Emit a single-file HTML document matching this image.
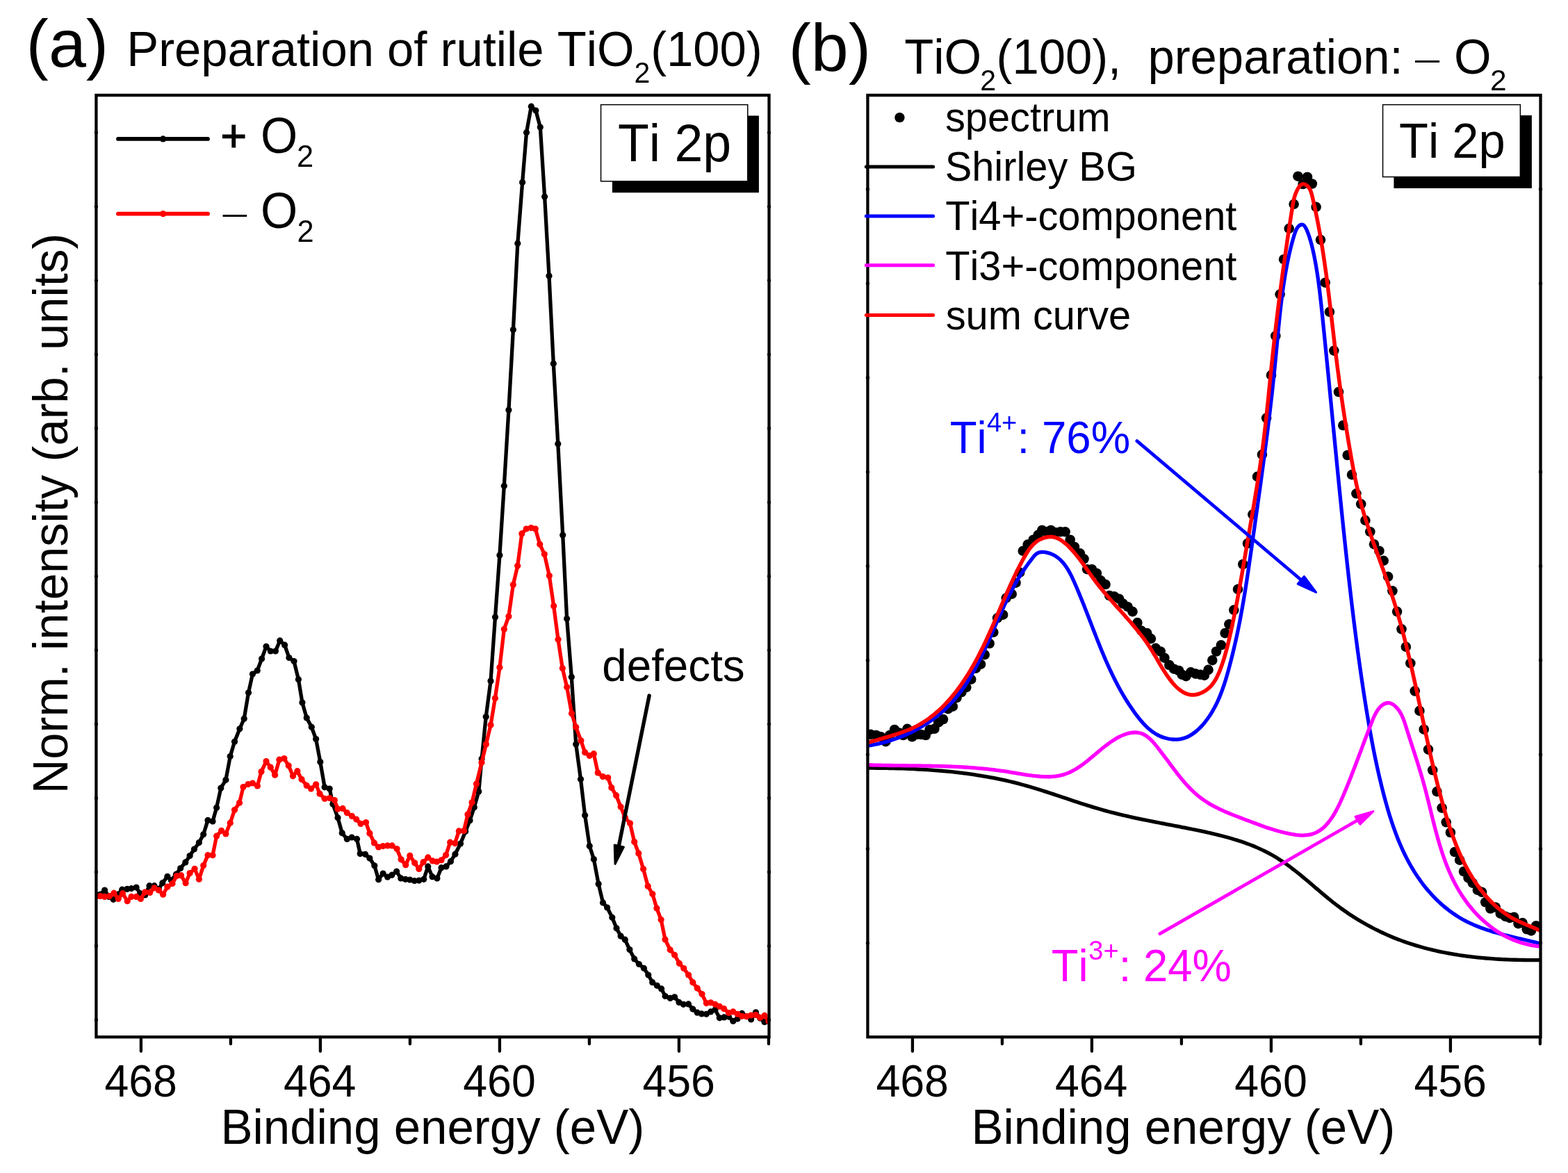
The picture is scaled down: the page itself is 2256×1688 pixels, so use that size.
<!DOCTYPE html>
<html><head><meta charset="utf-8"><title>TiO2(100) Ti 2p XPS</title>
<style>html,body{margin:0;padding:0;background:#fff;overflow:hidden;}svg{display:block;}text{font-family:"Liberation Sans", Arial, sans-serif;font-kerning:none;white-space:pre;}</style>
</head><body>
<svg width="2256" height="1688" viewBox="0 0 2256 1688">
<rect width="2256" height="1688" fill="#fff"/>
<defs><clipPath id="ca"><rect x="138.4" y="137.0" width="968.1" height="1355.3"/></clipPath><clipPath id="cb"><rect x="1248.4" y="137.0" width="968.0999999999999" height="1355.3"/></clipPath></defs>
<g clip-path="url(#ca)">
<polyline points="138.0,1287.2 144.3,1287.2 150.6,1281.0 156.8,1290.4 163.1,1294.3 169.4,1287.0 175.7,1280.2 182.8,1279.4 189.0,1278.6 196.1,1277.0 201.6,1285.7 208.7,1288.0 215.0,1274.7 222.0,1274.7 228.3,1279.4 233.8,1270.7 240.9,1261.3 246.4,1266.8 253.4,1258.2 259.7,1249.5 266.8,1240.9 273.1,1231.5 279.4,1222.0 286.4,1212.6 292.7,1200.8 299.0,1180.4 306.0,1182.0 311.6,1162.3 317.8,1134.0 324.9,1122.3 331.2,1088.5 337.5,1067.3 344.9,1048.8 351.2,1034.3 357.5,996.8 363.4,970.0 370.2,965.0 376.6,948.0 383.0,930.3 389.3,937.0 396.4,937.0 402.7,921.9 409.6,928.2 415.9,946.5 423.0,951.6 429.4,977.7 434.9,1011.0 441.2,1033.0 448.3,1046.3 454.6,1063.6 460.8,1096.6 467.1,1132.8 474.2,1135.1 478.9,1157.1 486.0,1176.7 492.2,1198.7 499.3,1207.4 506.1,1205.0 513.5,1207.4 518.2,1228.6 525.5,1229.3 531.9,1235.0 538.8,1245.8 544.6,1265.7 551.1,1257.0 557.6,1262.1 563.8,1259.2 570.6,1254.1 576.8,1263.9 583.3,1265.3 589.8,1266.0 596.3,1267.5 602.8,1267.1 609.7,1265.3 615.8,1246.9 622.0,1261.7 628.9,1263.9 635.0,1248.7 641.9,1246.9 648.4,1239.7 654.9,1229.2 662.5,1214.0 669.7,1196.4 676.0,1180.7 682.3,1161.8 688.8,1139.0 693.1,1092.0 699.2,1031.5 706.0,979.9 712.5,888.0 718.9,799.0 725.3,699.3 731.9,590.0 738.4,474.5 744.8,350.2 751.6,262.6 757.5,190.8 764.3,153.2 770.9,159.0 777.3,183.1 783.6,282.9 790.0,397.1 796.3,523.2 802.8,638.7 809.7,769.9 815.6,890.2 822.3,974.2 828.7,1070.9 835.5,1121.3 841.6,1173.2 848.2,1217.4 854.4,1236.5 861.1,1272.0 867.5,1298.9 873.6,1306.0 880.8,1320.3 887.0,1335.8 893.1,1347.1 899.3,1352.2 905.9,1366.6 912.7,1379.9 919.4,1387.5 926.4,1393.3 932.8,1403.0 938.7,1413.7 945.3,1418.3 951.6,1422.9 957.1,1433.5 964.3,1436.4 970.6,1434.8 977.0,1442.4 983.3,1445.3 990.5,1444.9 996.8,1452.1 1003.2,1457.2 1009.5,1458.9 1016.3,1459.3 1022.6,1455.9 1029.0,1452.9 1035.3,1464.8 1041.7,1463.9 1048.4,1463.1 1054.8,1469.4 1061.1,1466.1 1067.5,1458.4 1074.2,1462.7 1080.6,1466.9 1087.4,1456.8 1093.7,1465.2 1100.0,1470.7 1106.0,1469.4" fill="none" stroke="#000" stroke-width="5.3" stroke-linejoin="round"/>
<g fill="#000"><circle cx="138.0" cy="1287.2" r="4.6"/><circle cx="144.3" cy="1287.2" r="4.6"/><circle cx="150.6" cy="1281.0" r="4.6"/><circle cx="156.8" cy="1290.4" r="4.6"/><circle cx="163.1" cy="1294.3" r="4.6"/><circle cx="169.4" cy="1287.0" r="4.6"/><circle cx="175.7" cy="1280.2" r="4.6"/><circle cx="182.8" cy="1279.4" r="4.6"/><circle cx="189.0" cy="1278.6" r="4.6"/><circle cx="196.1" cy="1277.0" r="4.6"/><circle cx="201.6" cy="1285.7" r="4.6"/><circle cx="208.7" cy="1288.0" r="4.6"/><circle cx="215.0" cy="1274.7" r="4.6"/><circle cx="222.0" cy="1274.7" r="4.6"/><circle cx="228.3" cy="1279.4" r="4.6"/><circle cx="233.8" cy="1270.7" r="4.6"/><circle cx="240.9" cy="1261.3" r="4.6"/><circle cx="246.4" cy="1266.8" r="4.6"/><circle cx="253.4" cy="1258.2" r="4.6"/><circle cx="259.7" cy="1249.5" r="4.6"/><circle cx="266.8" cy="1240.9" r="4.6"/><circle cx="273.1" cy="1231.5" r="4.6"/><circle cx="279.4" cy="1222.0" r="4.6"/><circle cx="286.4" cy="1212.6" r="4.6"/><circle cx="292.7" cy="1200.8" r="4.6"/><circle cx="299.0" cy="1180.4" r="4.6"/><circle cx="306.0" cy="1182.0" r="4.6"/><circle cx="311.6" cy="1162.3" r="4.6"/><circle cx="317.8" cy="1134.0" r="4.6"/><circle cx="324.9" cy="1122.3" r="4.6"/><circle cx="331.2" cy="1088.5" r="4.6"/><circle cx="337.5" cy="1067.3" r="4.6"/><circle cx="344.9" cy="1048.8" r="4.6"/><circle cx="351.2" cy="1034.3" r="4.6"/><circle cx="357.5" cy="996.8" r="4.6"/><circle cx="363.4" cy="970.0" r="4.6"/><circle cx="370.2" cy="965.0" r="4.6"/><circle cx="376.6" cy="948.0" r="4.6"/><circle cx="383.0" cy="930.3" r="4.6"/><circle cx="389.3" cy="937.0" r="4.6"/><circle cx="396.4" cy="937.0" r="4.6"/><circle cx="402.7" cy="921.9" r="4.6"/><circle cx="409.6" cy="928.2" r="4.6"/><circle cx="415.9" cy="946.5" r="4.6"/><circle cx="423.0" cy="951.6" r="4.6"/><circle cx="429.4" cy="977.7" r="4.6"/><circle cx="434.9" cy="1011.0" r="4.6"/><circle cx="441.2" cy="1033.0" r="4.6"/><circle cx="448.3" cy="1046.3" r="4.6"/><circle cx="454.6" cy="1063.6" r="4.6"/><circle cx="460.8" cy="1096.6" r="4.6"/><circle cx="467.1" cy="1132.8" r="4.6"/><circle cx="474.2" cy="1135.1" r="4.6"/><circle cx="478.9" cy="1157.1" r="4.6"/><circle cx="486.0" cy="1176.7" r="4.6"/><circle cx="492.2" cy="1198.7" r="4.6"/><circle cx="499.3" cy="1207.4" r="4.6"/><circle cx="506.1" cy="1205.0" r="4.6"/><circle cx="513.5" cy="1207.4" r="4.6"/><circle cx="518.2" cy="1228.6" r="4.6"/><circle cx="525.5" cy="1229.3" r="4.6"/><circle cx="531.9" cy="1235.0" r="4.6"/><circle cx="538.8" cy="1245.8" r="4.6"/><circle cx="544.6" cy="1265.7" r="4.6"/><circle cx="551.1" cy="1257.0" r="4.6"/><circle cx="557.6" cy="1262.1" r="4.6"/><circle cx="563.8" cy="1259.2" r="4.6"/><circle cx="570.6" cy="1254.1" r="4.6"/><circle cx="576.8" cy="1263.9" r="4.6"/><circle cx="583.3" cy="1265.3" r="4.6"/><circle cx="589.8" cy="1266.0" r="4.6"/><circle cx="596.3" cy="1267.5" r="4.6"/><circle cx="602.8" cy="1267.1" r="4.6"/><circle cx="609.7" cy="1265.3" r="4.6"/><circle cx="615.8" cy="1246.9" r="4.6"/><circle cx="622.0" cy="1261.7" r="4.6"/><circle cx="628.9" cy="1263.9" r="4.6"/><circle cx="635.0" cy="1248.7" r="4.6"/><circle cx="641.9" cy="1246.9" r="4.6"/><circle cx="648.4" cy="1239.7" r="4.6"/><circle cx="654.9" cy="1229.2" r="4.6"/><circle cx="662.5" cy="1214.0" r="4.6"/><circle cx="669.7" cy="1196.4" r="4.6"/><circle cx="676.0" cy="1180.7" r="4.6"/><circle cx="682.3" cy="1161.8" r="4.6"/><circle cx="688.8" cy="1139.0" r="4.6"/><circle cx="693.1" cy="1092.0" r="4.6"/><circle cx="699.2" cy="1031.5" r="4.6"/><circle cx="706.0" cy="979.9" r="4.6"/><circle cx="712.5" cy="888.0" r="4.6"/><circle cx="718.9" cy="799.0" r="4.6"/><circle cx="725.3" cy="699.3" r="4.6"/><circle cx="731.9" cy="590.0" r="4.6"/><circle cx="738.4" cy="474.5" r="4.6"/><circle cx="744.8" cy="350.2" r="4.6"/><circle cx="751.6" cy="262.6" r="4.6"/><circle cx="757.5" cy="190.8" r="4.6"/><circle cx="764.3" cy="153.2" r="4.6"/><circle cx="770.9" cy="159.0" r="4.6"/><circle cx="777.3" cy="183.1" r="4.6"/><circle cx="783.6" cy="282.9" r="4.6"/><circle cx="790.0" cy="397.1" r="4.6"/><circle cx="796.3" cy="523.2" r="4.6"/><circle cx="802.8" cy="638.7" r="4.6"/><circle cx="809.7" cy="769.9" r="4.6"/><circle cx="815.6" cy="890.2" r="4.6"/><circle cx="822.3" cy="974.2" r="4.6"/><circle cx="828.7" cy="1070.9" r="4.6"/><circle cx="835.5" cy="1121.3" r="4.6"/><circle cx="841.6" cy="1173.2" r="4.6"/><circle cx="848.2" cy="1217.4" r="4.6"/><circle cx="854.4" cy="1236.5" r="4.6"/><circle cx="861.1" cy="1272.0" r="4.6"/><circle cx="867.5" cy="1298.9" r="4.6"/><circle cx="873.6" cy="1306.0" r="4.6"/><circle cx="880.8" cy="1320.3" r="4.6"/><circle cx="887.0" cy="1335.8" r="4.6"/><circle cx="893.1" cy="1347.1" r="4.6"/><circle cx="899.3" cy="1352.2" r="4.6"/><circle cx="905.9" cy="1366.6" r="4.6"/><circle cx="912.7" cy="1379.9" r="4.6"/><circle cx="919.4" cy="1387.5" r="4.6"/><circle cx="926.4" cy="1393.3" r="4.6"/><circle cx="932.8" cy="1403.0" r="4.6"/><circle cx="938.7" cy="1413.7" r="4.6"/><circle cx="945.3" cy="1418.3" r="4.6"/><circle cx="951.6" cy="1422.9" r="4.6"/><circle cx="957.1" cy="1433.5" r="4.6"/><circle cx="964.3" cy="1436.4" r="4.6"/><circle cx="970.6" cy="1434.8" r="4.6"/><circle cx="977.0" cy="1442.4" r="4.6"/><circle cx="983.3" cy="1445.3" r="4.6"/><circle cx="990.5" cy="1444.9" r="4.6"/><circle cx="996.8" cy="1452.1" r="4.6"/><circle cx="1003.2" cy="1457.2" r="4.6"/><circle cx="1009.5" cy="1458.9" r="4.6"/><circle cx="1016.3" cy="1459.3" r="4.6"/><circle cx="1022.6" cy="1455.9" r="4.6"/><circle cx="1029.0" cy="1452.9" r="4.6"/><circle cx="1035.3" cy="1464.8" r="4.6"/><circle cx="1041.7" cy="1463.9" r="4.6"/><circle cx="1048.4" cy="1463.1" r="4.6"/><circle cx="1054.8" cy="1469.4" r="4.6"/><circle cx="1061.1" cy="1466.1" r="4.6"/><circle cx="1067.5" cy="1458.4" r="4.6"/><circle cx="1074.2" cy="1462.7" r="4.6"/><circle cx="1080.6" cy="1466.9" r="4.6"/><circle cx="1087.4" cy="1456.8" r="4.6"/><circle cx="1093.7" cy="1465.2" r="4.6"/><circle cx="1100.0" cy="1470.7" r="4.6"/><circle cx="1106.0" cy="1469.4" r="4.6"/></g>
<polyline points="138.0,1290.4 144.3,1289.6 150.6,1290.4 157.6,1289.6 163.9,1285.2 170.2,1293.5 176.5,1285.7 183.2,1296.7 189.0,1290.4 196.1,1290.4 202.4,1293.5 208.7,1283.8 215.7,1284.4 222.0,1277.8 228.3,1281.0 234.6,1287.2 240.9,1276.2 248.0,1271.5 254.2,1260.5 260.5,1259.7 267.1,1270.7 273.1,1256.6 280.1,1250.3 286.4,1265.2 292.7,1245.6 299.0,1230.7 306.0,1230.7 311.6,1203.2 318.6,1195.3 324.9,1200.0 331.2,1184.3 337.5,1165.5 344.5,1155.3 350.0,1132.5 357.1,1128.6 363.4,1127.0 370.4,1130.9 376.0,1110.5 383.0,1095.6 389.3,1104.2 395.6,1115.2 401.9,1093.2 408.9,1091.6 415.2,1101.8 421.5,1116.8 427.8,1109.7 434.0,1121.5 441.2,1130.4 447.5,1135.1 454.6,1128.8 460.0,1142.2 467.1,1149.3 474.2,1148.5 481.3,1151.6 486.0,1164.2 493.0,1163.4 499.3,1169.7 506.4,1174.4 512.7,1179.1 519.0,1185.4 526.5,1183.5 531.9,1199.2 538.4,1212.9 544.6,1219.0 551.1,1217.6 557.6,1216.9 564.1,1216.9 571.0,1221.6 577.1,1236.8 583.7,1244.7 589.8,1231.3 596.7,1241.8 602.8,1250.5 609.0,1240.7 615.8,1233.9 622.4,1238.9 628.5,1240.0 635.0,1237.8 641.5,1230.6 647.7,1212.2 654.5,1213.6 660.3,1195.9 667.4,1195.6 672.9,1172.0 679.1,1154.8 685.4,1128.0 693.0,1097.3 699.4,1071.0 706.0,1043.2 712.4,1004.8 718.9,960.6 725.3,905.5 731.9,886.9 738.3,841.6 744.7,814.3 750.8,767.9 757.2,761.0 764.2,759.6 770.3,761.0 776.7,783.2 783.3,797.6 790.3,828.5 796.7,872.1 803.0,920.2 809.3,961.8 815.7,988.8 822.5,1026.8 828.7,1046.3 835.9,1065.8 841.6,1082.8 848.2,1087.4 854.3,1084.7 860.2,1111.9 867.3,1117.6 874.7,1119.0 879.8,1133.4 886.6,1144.7 893.1,1161.1 899.3,1176.6 906.5,1184.8 912.7,1211.5 918.8,1227.9 925.6,1250.5 932.2,1275.2 938.8,1286.5 944.9,1307.0 951.1,1323.4 957.0,1352.0 964.2,1366.8 970.6,1374.3 977.4,1386.3 983.8,1393.5 990.6,1403.0 996.8,1413.7 1003.2,1422.1 1010.0,1430.5 1016.3,1443.6 1022.6,1442.8 1029.0,1445.3 1035.3,1448.3 1041.7,1451.7 1048.4,1457.6 1054.8,1455.9 1061.1,1459.3 1067.5,1462.3 1074.2,1462.7 1080.6,1461.0 1087.4,1460.6 1093.7,1464.4 1100.0,1461.4 1106.0,1469.4" fill="none" stroke="#f00" stroke-width="5.3" stroke-linejoin="round"/>
<g fill="#f00"><circle cx="138.0" cy="1290.4" r="4.6"/><circle cx="144.3" cy="1289.6" r="4.6"/><circle cx="150.6" cy="1290.4" r="4.6"/><circle cx="157.6" cy="1289.6" r="4.6"/><circle cx="163.9" cy="1285.2" r="4.6"/><circle cx="170.2" cy="1293.5" r="4.6"/><circle cx="176.5" cy="1285.7" r="4.6"/><circle cx="183.2" cy="1296.7" r="4.6"/><circle cx="189.0" cy="1290.4" r="4.6"/><circle cx="196.1" cy="1290.4" r="4.6"/><circle cx="202.4" cy="1293.5" r="4.6"/><circle cx="208.7" cy="1283.8" r="4.6"/><circle cx="215.7" cy="1284.4" r="4.6"/><circle cx="222.0" cy="1277.8" r="4.6"/><circle cx="228.3" cy="1281.0" r="4.6"/><circle cx="234.6" cy="1287.2" r="4.6"/><circle cx="240.9" cy="1276.2" r="4.6"/><circle cx="248.0" cy="1271.5" r="4.6"/><circle cx="254.2" cy="1260.5" r="4.6"/><circle cx="260.5" cy="1259.7" r="4.6"/><circle cx="267.1" cy="1270.7" r="4.6"/><circle cx="273.1" cy="1256.6" r="4.6"/><circle cx="280.1" cy="1250.3" r="4.6"/><circle cx="286.4" cy="1265.2" r="4.6"/><circle cx="292.7" cy="1245.6" r="4.6"/><circle cx="299.0" cy="1230.7" r="4.6"/><circle cx="306.0" cy="1230.7" r="4.6"/><circle cx="311.6" cy="1203.2" r="4.6"/><circle cx="318.6" cy="1195.3" r="4.6"/><circle cx="324.9" cy="1200.0" r="4.6"/><circle cx="331.2" cy="1184.3" r="4.6"/><circle cx="337.5" cy="1165.5" r="4.6"/><circle cx="344.5" cy="1155.3" r="4.6"/><circle cx="350.0" cy="1132.5" r="4.6"/><circle cx="357.1" cy="1128.6" r="4.6"/><circle cx="363.4" cy="1127.0" r="4.6"/><circle cx="370.4" cy="1130.9" r="4.6"/><circle cx="376.0" cy="1110.5" r="4.6"/><circle cx="383.0" cy="1095.6" r="4.6"/><circle cx="389.3" cy="1104.2" r="4.6"/><circle cx="395.6" cy="1115.2" r="4.6"/><circle cx="401.9" cy="1093.2" r="4.6"/><circle cx="408.9" cy="1091.6" r="4.6"/><circle cx="415.2" cy="1101.8" r="4.6"/><circle cx="421.5" cy="1116.8" r="4.6"/><circle cx="427.8" cy="1109.7" r="4.6"/><circle cx="434.0" cy="1121.5" r="4.6"/><circle cx="441.2" cy="1130.4" r="4.6"/><circle cx="447.5" cy="1135.1" r="4.6"/><circle cx="454.6" cy="1128.8" r="4.6"/><circle cx="460.0" cy="1142.2" r="4.6"/><circle cx="467.1" cy="1149.3" r="4.6"/><circle cx="474.2" cy="1148.5" r="4.6"/><circle cx="481.3" cy="1151.6" r="4.6"/><circle cx="486.0" cy="1164.2" r="4.6"/><circle cx="493.0" cy="1163.4" r="4.6"/><circle cx="499.3" cy="1169.7" r="4.6"/><circle cx="506.4" cy="1174.4" r="4.6"/><circle cx="512.7" cy="1179.1" r="4.6"/><circle cx="519.0" cy="1185.4" r="4.6"/><circle cx="526.5" cy="1183.5" r="4.6"/><circle cx="531.9" cy="1199.2" r="4.6"/><circle cx="538.4" cy="1212.9" r="4.6"/><circle cx="544.6" cy="1219.0" r="4.6"/><circle cx="551.1" cy="1217.6" r="4.6"/><circle cx="557.6" cy="1216.9" r="4.6"/><circle cx="564.1" cy="1216.9" r="4.6"/><circle cx="571.0" cy="1221.6" r="4.6"/><circle cx="577.1" cy="1236.8" r="4.6"/><circle cx="583.7" cy="1244.7" r="4.6"/><circle cx="589.8" cy="1231.3" r="4.6"/><circle cx="596.7" cy="1241.8" r="4.6"/><circle cx="602.8" cy="1250.5" r="4.6"/><circle cx="609.0" cy="1240.7" r="4.6"/><circle cx="615.8" cy="1233.9" r="4.6"/><circle cx="622.4" cy="1238.9" r="4.6"/><circle cx="628.5" cy="1240.0" r="4.6"/><circle cx="635.0" cy="1237.8" r="4.6"/><circle cx="641.5" cy="1230.6" r="4.6"/><circle cx="647.7" cy="1212.2" r="4.6"/><circle cx="654.5" cy="1213.6" r="4.6"/><circle cx="660.3" cy="1195.9" r="4.6"/><circle cx="667.4" cy="1195.6" r="4.6"/><circle cx="672.9" cy="1172.0" r="4.6"/><circle cx="679.1" cy="1154.8" r="4.6"/><circle cx="685.4" cy="1128.0" r="4.6"/><circle cx="693.0" cy="1097.3" r="4.6"/><circle cx="699.4" cy="1071.0" r="4.6"/><circle cx="706.0" cy="1043.2" r="4.6"/><circle cx="712.4" cy="1004.8" r="4.6"/><circle cx="718.9" cy="960.6" r="4.6"/><circle cx="725.3" cy="905.5" r="4.6"/><circle cx="731.9" cy="886.9" r="4.6"/><circle cx="738.3" cy="841.6" r="4.6"/><circle cx="744.7" cy="814.3" r="4.6"/><circle cx="750.8" cy="767.9" r="4.6"/><circle cx="757.2" cy="761.0" r="4.6"/><circle cx="764.2" cy="759.6" r="4.6"/><circle cx="770.3" cy="761.0" r="4.6"/><circle cx="776.7" cy="783.2" r="4.6"/><circle cx="783.3" cy="797.6" r="4.6"/><circle cx="790.3" cy="828.5" r="4.6"/><circle cx="796.7" cy="872.1" r="4.6"/><circle cx="803.0" cy="920.2" r="4.6"/><circle cx="809.3" cy="961.8" r="4.6"/><circle cx="815.7" cy="988.8" r="4.6"/><circle cx="822.5" cy="1026.8" r="4.6"/><circle cx="828.7" cy="1046.3" r="4.6"/><circle cx="835.9" cy="1065.8" r="4.6"/><circle cx="841.6" cy="1082.8" r="4.6"/><circle cx="848.2" cy="1087.4" r="4.6"/><circle cx="854.3" cy="1084.7" r="4.6"/><circle cx="860.2" cy="1111.9" r="4.6"/><circle cx="867.3" cy="1117.6" r="4.6"/><circle cx="874.7" cy="1119.0" r="4.6"/><circle cx="879.8" cy="1133.4" r="4.6"/><circle cx="886.6" cy="1144.7" r="4.6"/><circle cx="893.1" cy="1161.1" r="4.6"/><circle cx="899.3" cy="1176.6" r="4.6"/><circle cx="906.5" cy="1184.8" r="4.6"/><circle cx="912.7" cy="1211.5" r="4.6"/><circle cx="918.8" cy="1227.9" r="4.6"/><circle cx="925.6" cy="1250.5" r="4.6"/><circle cx="932.2" cy="1275.2" r="4.6"/><circle cx="938.8" cy="1286.5" r="4.6"/><circle cx="944.9" cy="1307.0" r="4.6"/><circle cx="951.1" cy="1323.4" r="4.6"/><circle cx="957.0" cy="1352.0" r="4.6"/><circle cx="964.2" cy="1366.8" r="4.6"/><circle cx="970.6" cy="1374.3" r="4.6"/><circle cx="977.4" cy="1386.3" r="4.6"/><circle cx="983.8" cy="1393.5" r="4.6"/><circle cx="990.6" cy="1403.0" r="4.6"/><circle cx="996.8" cy="1413.7" r="4.6"/><circle cx="1003.2" cy="1422.1" r="4.6"/><circle cx="1010.0" cy="1430.5" r="4.6"/><circle cx="1016.3" cy="1443.6" r="4.6"/><circle cx="1022.6" cy="1442.8" r="4.6"/><circle cx="1029.0" cy="1445.3" r="4.6"/><circle cx="1035.3" cy="1448.3" r="4.6"/><circle cx="1041.7" cy="1451.7" r="4.6"/><circle cx="1048.4" cy="1457.6" r="4.6"/><circle cx="1054.8" cy="1455.9" r="4.6"/><circle cx="1061.1" cy="1459.3" r="4.6"/><circle cx="1067.5" cy="1462.3" r="4.6"/><circle cx="1074.2" cy="1462.7" r="4.6"/><circle cx="1080.6" cy="1461.0" r="4.6"/><circle cx="1087.4" cy="1460.6" r="4.6"/><circle cx="1093.7" cy="1464.4" r="4.6"/><circle cx="1100.0" cy="1461.4" r="4.6"/><circle cx="1106.0" cy="1469.4" r="4.6"/></g>
</g>
<g clip-path="url(#cb)">
<g fill="#000"><circle cx="1252.6" cy="1056.9" r="7.3"/><circle cx="1260.6" cy="1058.0" r="7.3"/><circle cx="1267.5" cy="1060.3" r="7.3"/><circle cx="1274.4" cy="1067.2" r="7.3"/><circle cx="1280.1" cy="1058.0" r="7.3"/><circle cx="1287.0" cy="1050.0" r="7.3"/><circle cx="1293.9" cy="1054.6" r="7.3"/><circle cx="1299.6" cy="1058.0" r="7.3"/><circle cx="1305.4" cy="1048.8" r="7.3"/><circle cx="1312.3" cy="1060.3" r="7.3"/><circle cx="1319.1" cy="1056.9" r="7.3"/><circle cx="1325.5" cy="1057.0" r="7.3"/><circle cx="1331.8" cy="1058.0" r="7.3"/><circle cx="1337.5" cy="1050.0" r="7.3"/><circle cx="1344.4" cy="1048.8" r="7.3"/><circle cx="1350.1" cy="1039.7" r="7.3"/><circle cx="1357.0" cy="1035.1" r="7.3"/><circle cx="1363.9" cy="1020.1" r="7.3"/><circle cx="1370.8" cy="1016.7" r="7.3"/><circle cx="1376.5" cy="1004.1" r="7.3"/><circle cx="1383.4" cy="996.0" r="7.3"/><circle cx="1390.3" cy="989.1" r="7.3"/><circle cx="1397.2" cy="977.7" r="7.3"/><circle cx="1404.1" cy="961.6" r="7.3"/><circle cx="1411.0" cy="955.8" r="7.3"/><circle cx="1416.7" cy="942.1" r="7.3"/><circle cx="1423.6" cy="926.0" r="7.3"/><circle cx="1429.3" cy="909.9" r="7.3"/><circle cx="1435.1" cy="889.3" r="7.3"/><circle cx="1443.1" cy="884.7" r="7.3"/><circle cx="1447.7" cy="860.6" r="7.3"/><circle cx="1455.7" cy="854.8" r="7.3"/><circle cx="1461.5" cy="838.7" r="7.3"/><circle cx="1467.2" cy="823.8" r="7.3"/><circle cx="1471.8" cy="792.8" r="7.3"/><circle cx="1478.7" cy="783.6" r="7.3"/><circle cx="1486.7" cy="776.7" r="7.3"/><circle cx="1493.6" cy="769.9" r="7.3"/><circle cx="1499.3" cy="763.0" r="7.3"/><circle cx="1506.2" cy="765.3" r="7.3"/><circle cx="1512.0" cy="763.0" r="7.3"/><circle cx="1518.8" cy="766.4" r="7.3"/><circle cx="1525.7" cy="765.3" r="7.3"/><circle cx="1532.6" cy="765.3" r="7.3"/><circle cx="1539.7" cy="776.7" r="7.3"/><circle cx="1546.0" cy="787.0" r="7.3"/><circle cx="1553.8" cy="796.3" r="7.3"/><circle cx="1559.5" cy="804.3" r="7.3"/><circle cx="1564.1" cy="819.2" r="7.3"/><circle cx="1571.0" cy="819.2" r="7.3"/><circle cx="1577.9" cy="825.0" r="7.3"/><circle cx="1583.6" cy="835.3" r="7.3"/><circle cx="1590.5" cy="841.0" r="7.3"/><circle cx="1596.2" cy="857.1" r="7.3"/><circle cx="1603.1" cy="858.3" r="7.3"/><circle cx="1610.0" cy="861.7" r="7.3"/><circle cx="1615.7" cy="868.6" r="7.3"/><circle cx="1622.6" cy="873.2" r="7.3"/><circle cx="1629.5" cy="880.1" r="7.3"/><circle cx="1636.4" cy="896.1" r="7.3"/><circle cx="1642.1" cy="907.6" r="7.3"/><circle cx="1650.2" cy="911.1" r="7.3"/><circle cx="1655.9" cy="919.1" r="7.3"/><circle cx="1662.8" cy="932.9" r="7.3"/><circle cx="1669.7" cy="937.5" r="7.3"/><circle cx="1675.4" cy="946.7" r="7.3"/><circle cx="1682.3" cy="957.0" r="7.3"/><circle cx="1689.2" cy="962.7" r="7.3"/><circle cx="1696.1" cy="965.0" r="7.3"/><circle cx="1700.7" cy="970.8" r="7.3"/><circle cx="1706.4" cy="973.1" r="7.3"/><circle cx="1713.3" cy="967.3" r="7.3"/><circle cx="1720.2" cy="969.6" r="7.3"/><circle cx="1727.1" cy="970.8" r="7.3"/><circle cx="1732.8" cy="971.9" r="7.3"/><circle cx="1738.5" cy="963.9" r="7.3"/><circle cx="1744.3" cy="950.1" r="7.3"/><circle cx="1750.0" cy="937.5" r="7.3"/><circle cx="1756.9" cy="928.3" r="7.3"/><circle cx="1762.6" cy="911.1" r="7.3"/><circle cx="1768.4" cy="898.4" r="7.3"/><circle cx="1775.3" cy="877.8" r="7.3"/><circle cx="1781.0" cy="847.9" r="7.3"/><circle cx="1788.3" cy="812.0" r="7.3"/><circle cx="1795.0" cy="782.0" r="7.3"/><circle cx="1802.4" cy="740.4" r="7.3"/><circle cx="1809.0" cy="685.9" r="7.3"/><circle cx="1815.9" cy="654.1" r="7.3"/><circle cx="1822.1" cy="601.6" r="7.3"/><circle cx="1829.0" cy="539.9" r="7.3"/><circle cx="1835.3" cy="483.4" r="7.3"/><circle cx="1841.6" cy="423.6" r="7.3"/><circle cx="1847.1" cy="373.2" r="7.3"/><circle cx="1854.7" cy="328.8" r="7.3"/><circle cx="1861.6" cy="293.8" r="7.3"/><circle cx="1867.5" cy="253.7" r="7.3"/><circle cx="1874.6" cy="265.0" r="7.3"/><circle cx="1881.0" cy="254.7" r="7.3"/><circle cx="1887.8" cy="264.5" r="7.3"/><circle cx="1893.6" cy="297.8" r="7.3"/><circle cx="1900.0" cy="345.1" r="7.3"/><circle cx="1906.6" cy="406.7" r="7.3"/><circle cx="1912.9" cy="448.8" r="7.3"/><circle cx="1919.3" cy="504.6" r="7.3"/><circle cx="1926.0" cy="564.0" r="7.3"/><circle cx="1932.3" cy="612.1" r="7.3"/><circle cx="1938.7" cy="655.0" r="7.3"/><circle cx="1945.0" cy="683.1" r="7.3"/><circle cx="1951.4" cy="710.3" r="7.3"/><circle cx="1958.2" cy="725.4" r="7.3"/><circle cx="1964.4" cy="748.9" r="7.3"/><circle cx="1971.3" cy="765.2" r="7.3"/><circle cx="1977.0" cy="783.2" r="7.3"/><circle cx="1984.4" cy="792.7" r="7.3"/><circle cx="1990.7" cy="806.8" r="7.3"/><circle cx="1997.1" cy="829.8" r="7.3"/><circle cx="2003.4" cy="850.3" r="7.3"/><circle cx="2010.1" cy="880.1" r="7.3"/><circle cx="2016.5" cy="905.4" r="7.3"/><circle cx="2022.8" cy="930.8" r="7.3"/><circle cx="2029.3" cy="954.4" r="7.3"/><circle cx="2035.7" cy="994.4" r="7.3"/><circle cx="2042.4" cy="1022.9" r="7.3"/><circle cx="2048.7" cy="1049.7" r="7.3"/><circle cx="2055.0" cy="1078.6" r="7.3"/><circle cx="2061.2" cy="1108.3" r="7.3"/><circle cx="2067.4" cy="1139.1" r="7.3"/><circle cx="2074.6" cy="1162.7" r="7.3"/><circle cx="2080.7" cy="1183.3" r="7.3"/><circle cx="2086.9" cy="1198.0" r="7.3"/><circle cx="2093.0" cy="1226.0" r="7.3"/><circle cx="2100.2" cy="1237.7" r="7.3"/><circle cx="2106.0" cy="1254.1" r="7.3"/><circle cx="2112.6" cy="1263.4" r="7.3"/><circle cx="2118.7" cy="1270.6" r="7.3"/><circle cx="2125.9" cy="1280.8" r="7.3"/><circle cx="2132.1" cy="1283.9" r="7.3"/><circle cx="2137.2" cy="1298.3" r="7.3"/><circle cx="2144.4" cy="1307.5" r="7.3"/><circle cx="2151.6" cy="1305.5" r="7.3"/><circle cx="2158.8" cy="1314.7" r="7.3"/><circle cx="2166.0" cy="1318.8" r="7.3"/><circle cx="2172.1" cy="1320.9" r="7.3"/><circle cx="2178.3" cy="1319.9" r="7.3"/><circle cx="2184.5" cy="1329.1" r="7.3"/><circle cx="2190.6" cy="1328.1" r="7.3"/><circle cx="2196.8" cy="1337.3" r="7.3"/><circle cx="2203.0" cy="1339.4" r="7.3"/><circle cx="2210.1" cy="1332.2" r="7.3"/></g>
<path d="M1249.00,1105.20 C1250.01,1105.21 1253.02,1105.21 1255.03,1105.22 C1257.04,1105.23 1259.05,1105.24 1261.07,1105.26 C1263.08,1105.28 1265.09,1105.30 1267.10,1105.32 C1269.11,1105.34 1271.12,1105.37 1273.13,1105.40 C1275.14,1105.43 1277.15,1105.47 1279.16,1105.50 C1281.17,1105.54 1283.18,1105.59 1285.19,1105.63 C1287.21,1105.68 1289.22,1105.73 1291.23,1105.79 C1293.24,1105.84 1295.25,1105.90 1297.26,1105.97 C1299.27,1106.03 1301.28,1106.10 1303.29,1106.18 C1305.30,1106.25 1307.30,1106.33 1309.31,1106.42 C1311.32,1106.50 1313.33,1106.59 1315.34,1106.69 C1317.35,1106.78 1319.36,1106.88 1321.37,1106.99 C1323.37,1107.09 1325.38,1107.21 1327.39,1107.32 C1329.40,1107.44 1331.40,1107.56 1333.41,1107.69 C1335.42,1107.82 1337.42,1107.96 1339.43,1108.10 C1341.44,1108.24 1343.44,1108.39 1345.45,1108.54 C1347.45,1108.70 1349.46,1108.86 1351.46,1109.03 C1353.47,1109.20 1355.47,1109.37 1357.47,1109.55 C1359.47,1109.73 1361.48,1109.92 1363.48,1110.12 C1365.48,1110.31 1367.48,1110.51 1369.48,1110.72 C1371.48,1110.93 1373.48,1111.15 1375.48,1111.38 C1377.48,1111.60 1379.47,1111.83 1381.47,1112.07 C1383.47,1112.32 1385.46,1112.56 1387.46,1112.82 C1389.45,1113.08 1391.45,1113.34 1393.44,1113.61 C1395.43,1113.89 1397.42,1114.17 1399.41,1114.46 C1401.40,1114.75 1403.39,1115.05 1405.38,1115.35 C1407.37,1115.66 1409.35,1115.98 1411.34,1116.30 C1413.32,1116.63 1415.30,1116.96 1417.29,1117.30 C1419.27,1117.65 1421.25,1118.00 1423.22,1118.36 C1425.20,1118.72 1427.18,1119.09 1429.15,1119.47 C1431.13,1119.85 1433.10,1120.25 1435.07,1120.65 C1437.04,1121.05 1439.01,1121.46 1440.98,1121.88 C1442.94,1122.30 1444.91,1122.73 1446.87,1123.17 C1448.83,1123.61 1450.79,1124.06 1452.75,1124.52 C1454.71,1124.99 1456.66,1125.46 1458.61,1125.94 C1460.57,1126.42 1462.52,1126.92 1464.46,1127.42 C1466.41,1127.93 1468.35,1128.45 1470.29,1128.97 C1472.23,1129.50 1474.17,1130.04 1476.11,1130.58 C1478.04,1131.13 1479.97,1131.69 1481.90,1132.25 C1483.83,1132.82 1485.76,1133.39 1487.69,1133.97 C1489.61,1134.55 1491.53,1135.14 1493.46,1135.74 C1495.38,1136.34 1497.29,1136.94 1499.21,1137.55 C1501.13,1138.15 1503.04,1138.77 1504.96,1139.38 C1506.87,1140.00 1508.78,1140.62 1510.70,1141.25 C1512.61,1141.87 1514.52,1142.50 1516.43,1143.14 C1518.34,1143.77 1520.24,1144.40 1522.15,1145.04 C1524.06,1145.67 1525.97,1146.31 1527.87,1146.95 C1529.78,1147.59 1531.69,1148.23 1533.60,1148.86 C1535.50,1149.50 1537.41,1150.14 1539.32,1150.77 C1541.23,1151.41 1543.13,1152.05 1545.04,1152.68 C1546.95,1153.31 1548.86,1153.94 1550.77,1154.57 C1552.68,1155.19 1554.60,1155.82 1556.51,1156.43 C1558.42,1157.05 1560.34,1157.67 1562.25,1158.28 C1564.17,1158.88 1566.09,1159.49 1568.01,1160.08 C1569.93,1160.68 1571.85,1161.27 1573.78,1161.85 C1575.70,1162.44 1577.63,1163.01 1579.56,1163.58 C1581.49,1164.15 1583.42,1164.71 1585.35,1165.26 C1587.29,1165.81 1589.23,1166.35 1591.16,1166.88 C1593.10,1167.41 1595.05,1167.92 1596.99,1168.44 C1598.94,1168.95 1600.88,1169.45 1602.83,1169.94 C1604.78,1170.44 1606.74,1170.92 1608.69,1171.40 C1610.64,1171.88 1612.60,1172.35 1614.56,1172.81 C1616.51,1173.27 1618.47,1173.73 1620.43,1174.17 C1622.39,1174.62 1624.35,1175.06 1626.32,1175.50 C1628.28,1175.94 1630.24,1176.37 1632.21,1176.79 C1634.18,1177.22 1636.14,1177.64 1638.11,1178.05 C1640.08,1178.47 1642.05,1178.87 1644.02,1179.28 C1645.99,1179.69 1647.96,1180.09 1649.93,1180.49 C1651.90,1180.89 1653.87,1181.28 1655.84,1181.67 C1657.82,1182.07 1659.79,1182.46 1661.76,1182.84 C1663.73,1183.23 1665.71,1183.62 1667.68,1184.00 C1669.66,1184.38 1671.63,1184.77 1673.61,1185.15 C1675.58,1185.53 1677.55,1185.91 1679.53,1186.29 C1681.50,1186.67 1683.48,1187.05 1685.45,1187.43 C1687.43,1187.81 1689.40,1188.19 1691.38,1188.57 C1693.35,1188.95 1695.33,1189.34 1697.30,1189.72 C1699.27,1190.11 1701.25,1190.49 1703.22,1190.88 C1705.19,1191.27 1707.17,1191.66 1709.14,1192.05 C1711.11,1192.45 1713.08,1192.84 1715.05,1193.24 C1717.02,1193.64 1718.99,1194.04 1720.96,1194.45 C1722.93,1194.86 1724.90,1195.27 1726.87,1195.69 C1728.84,1196.10 1730.80,1196.52 1732.77,1196.95 C1734.73,1197.38 1736.70,1197.81 1738.66,1198.25 C1740.62,1198.70 1742.58,1199.14 1744.54,1199.60 C1746.50,1200.06 1748.46,1200.52 1750.41,1201.00 C1752.36,1201.47 1754.32,1201.96 1756.26,1202.45 C1758.21,1202.95 1760.16,1203.45 1762.10,1203.97 C1764.05,1204.49 1765.99,1205.02 1767.92,1205.56 C1769.86,1206.11 1771.79,1206.66 1773.72,1207.24 C1775.65,1207.81 1777.57,1208.39 1779.49,1209.00 C1781.41,1209.60 1783.32,1210.22 1785.23,1210.85 C1787.14,1211.49 1789.04,1212.14 1790.94,1212.81 C1792.83,1213.48 1794.72,1214.17 1796.60,1214.87 C1798.49,1215.58 1800.36,1216.31 1802.23,1217.06 C1804.09,1217.81 1805.95,1218.57 1807.80,1219.36 C1809.65,1220.15 1811.49,1220.97 1813.32,1221.80 C1815.15,1222.64 1816.97,1223.49 1818.78,1224.38 C1820.58,1225.26 1822.38,1226.16 1824.16,1227.09 C1825.95,1228.03 1827.72,1228.98 1829.47,1229.96 C1831.23,1230.94 1832.97,1231.95 1834.69,1232.98 C1836.42,1234.01 1838.13,1235.07 1839.83,1236.15 C1841.52,1237.23 1843.20,1238.33 1844.87,1239.46 C1846.54,1240.58 1848.19,1241.72 1849.84,1242.88 C1851.48,1244.04 1853.11,1245.22 1854.73,1246.42 C1856.35,1247.61 1857.95,1248.82 1859.55,1250.04 C1861.15,1251.26 1862.74,1252.50 1864.31,1253.74 C1865.89,1254.99 1867.46,1256.25 1869.03,1257.51 C1870.59,1258.77 1872.15,1260.05 1873.70,1261.33 C1875.25,1262.61 1876.79,1263.90 1878.33,1265.19 C1879.88,1266.48 1881.41,1267.78 1882.95,1269.08 C1884.48,1270.38 1886.01,1271.68 1887.54,1272.99 C1889.07,1274.29 1890.60,1275.60 1892.13,1276.90 C1893.66,1278.21 1895.19,1279.51 1896.72,1280.82 C1898.25,1282.12 1899.79,1283.42 1901.32,1284.72 C1902.86,1286.01 1904.40,1287.31 1905.95,1288.60 C1907.49,1289.88 1909.04,1291.17 1910.60,1292.44 C1912.15,1293.71 1913.71,1294.98 1915.28,1296.24 C1916.85,1297.50 1918.43,1298.75 1920.01,1299.98 C1921.60,1301.22 1923.19,1302.45 1924.80,1303.66 C1926.40,1304.87 1928.02,1306.07 1929.64,1307.25 C1931.27,1308.44 1932.90,1309.61 1934.55,1310.77 C1936.19,1311.92 1937.85,1313.06 1939.51,1314.19 C1941.18,1315.32 1942.85,1316.43 1944.54,1317.53 C1946.22,1318.63 1947.91,1319.72 1949.61,1320.79 C1951.32,1321.86 1953.03,1322.92 1954.75,1323.96 C1956.47,1325.00 1958.20,1326.03 1959.94,1327.04 C1961.67,1328.05 1963.42,1329.05 1965.18,1330.03 C1966.93,1331.01 1968.69,1331.98 1970.46,1332.93 C1972.23,1333.89 1974.01,1334.82 1975.80,1335.75 C1977.59,1336.67 1979.38,1337.58 1981.18,1338.47 C1982.99,1339.36 1984.80,1340.24 1986.61,1341.10 C1988.43,1341.96 1990.26,1342.81 1992.09,1343.64 C1993.92,1344.47 1995.76,1345.29 1997.60,1346.09 C1999.45,1346.89 2001.30,1347.67 2003.15,1348.44 C2005.01,1349.21 2006.88,1349.97 2008.75,1350.70 C2010.62,1351.44 2012.49,1352.17 2014.38,1352.87 C2016.26,1353.58 2018.15,1354.27 2020.04,1354.95 C2021.94,1355.62 2023.84,1356.28 2025.74,1356.93 C2027.65,1357.57 2029.56,1358.20 2031.47,1358.82 C2033.39,1359.43 2035.31,1360.03 2037.23,1360.61 C2039.15,1361.19 2041.08,1361.76 2043.02,1362.32 C2044.95,1362.87 2046.89,1363.41 2048.83,1363.94 C2050.77,1364.46 2052.72,1364.97 2054.66,1365.47 C2056.61,1365.96 2058.57,1366.45 2060.52,1366.92 C2062.48,1367.38 2064.44,1367.84 2066.40,1368.28 C2068.36,1368.72 2070.32,1369.15 2072.29,1369.57 C2074.26,1369.98 2076.23,1370.38 2078.20,1370.77 C2080.18,1371.16 2082.15,1371.54 2084.13,1371.91 C2086.11,1372.27 2088.09,1372.62 2090.07,1372.96 C2092.05,1373.30 2094.03,1373.63 2096.02,1373.95 C2098.01,1374.26 2099.99,1374.57 2101.98,1374.86 C2103.97,1375.16 2105.96,1375.44 2107.96,1375.71 C2109.95,1375.98 2111.94,1376.24 2113.94,1376.49 C2115.93,1376.74 2117.93,1376.98 2119.93,1377.21 C2121.93,1377.44 2123.93,1377.65 2125.93,1377.86 C2127.93,1378.07 2129.93,1378.27 2131.93,1378.46 C2133.93,1378.65 2135.94,1378.82 2137.94,1378.99 C2139.94,1379.16 2141.95,1379.32 2143.95,1379.47 C2145.96,1379.62 2147.96,1379.77 2149.97,1379.90 C2151.98,1380.03 2153.98,1380.16 2155.99,1380.27 C2158.00,1380.39 2160.01,1380.49 2162.02,1380.59 C2164.03,1380.69 2166.03,1380.78 2168.04,1380.87 C2170.05,1380.95 2172.06,1381.02 2174.07,1381.09 C2176.08,1381.16 2178.09,1381.22 2180.10,1381.27 C2182.11,1381.33 2184.12,1381.37 2186.13,1381.41 C2188.15,1381.45 2190.16,1381.48 2192.17,1381.50 C2194.18,1381.53 2196.19,1381.55 2198.20,1381.56 C2200.21,1381.57 2202.22,1381.58 2204.23,1381.57 C2206.24,1381.57 2208.25,1381.57 2210.27,1381.55 C2212.28,1381.54 2215.29,1381.51 2216.30,1381.50" fill="none" stroke="#000" stroke-width="5.3"/>
<path d="M1248.00,1073.30 C1248.99,1073.14 1251.96,1072.69 1253.94,1072.34 C1255.91,1071.99 1257.88,1071.62 1259.84,1071.21 C1261.80,1070.81 1263.76,1070.37 1265.71,1069.91 C1267.66,1069.45 1269.60,1068.97 1271.54,1068.45 C1273.47,1067.94 1275.40,1067.39 1277.33,1066.83 C1279.25,1066.26 1281.16,1065.66 1283.07,1065.04 C1284.97,1064.42 1286.87,1063.77 1288.75,1063.10 C1290.64,1062.43 1292.52,1061.73 1294.39,1061.00 C1296.26,1060.28 1298.11,1059.53 1299.96,1058.75 C1301.81,1057.98 1303.65,1057.18 1305.47,1056.35 C1307.30,1055.53 1309.11,1054.67 1310.91,1053.80 C1312.72,1052.92 1314.51,1052.02 1316.28,1051.10 C1318.06,1050.17 1319.82,1049.22 1321.57,1048.24 C1323.32,1047.27 1325.06,1046.27 1326.78,1045.24 C1328.50,1044.21 1330.21,1043.16 1331.90,1042.09 C1333.59,1041.01 1335.27,1039.91 1336.92,1038.79 C1338.58,1037.66 1340.22,1036.51 1341.84,1035.34 C1343.47,1034.16 1345.07,1032.96 1346.66,1031.73 C1348.24,1030.51 1349.81,1029.26 1351.35,1027.98 C1352.90,1026.71 1354.42,1025.41 1355.92,1024.08 C1357.43,1022.75 1358.91,1021.40 1360.36,1020.03 C1361.82,1018.65 1363.25,1017.25 1364.66,1015.83 C1366.07,1014.40 1367.45,1012.95 1368.81,1011.48 C1370.17,1010.01 1371.51,1008.51 1372.82,1006.99 C1374.13,1005.48 1375.41,1003.94 1376.68,1002.39 C1377.94,1000.83 1379.18,999.26 1380.40,997.67 C1381.61,996.07 1382.81,994.46 1383.98,992.84 C1385.15,991.22 1386.31,989.58 1387.44,987.92 C1388.57,986.27 1389.68,984.60 1390.77,982.92 C1391.86,981.24 1392.93,979.54 1393.99,977.84 C1395.04,976.14 1396.07,974.42 1397.09,972.69 C1398.11,970.97 1399.11,969.23 1400.10,967.49 C1401.08,965.74 1402.05,963.99 1403.01,962.23 C1403.96,960.47 1404.91,958.70 1405.83,956.92 C1406.76,955.15 1407.68,953.37 1408.58,951.58 C1409.49,949.79 1410.38,948.00 1411.26,946.20 C1412.14,944.40 1413.01,942.59 1413.88,940.78 C1414.74,938.98 1415.59,937.16 1416.44,935.35 C1417.28,933.53 1418.12,931.71 1418.95,929.89 C1419.79,928.06 1420.61,926.24 1421.43,924.41 C1422.25,922.58 1423.07,920.75 1423.88,918.92 C1424.69,917.09 1425.50,915.25 1426.30,913.42 C1427.11,911.59 1427.91,909.75 1428.71,907.91 C1429.52,906.08 1430.32,904.24 1431.12,902.40 C1431.92,900.57 1432.72,898.73 1433.52,896.89 C1434.33,895.06 1435.13,893.22 1435.94,891.39 C1436.74,889.55 1437.55,887.72 1438.36,885.89 C1439.18,884.06 1440.00,882.23 1440.82,880.40 C1441.64,878.58 1442.47,876.75 1443.31,874.93 C1444.14,873.11 1444.98,871.29 1445.83,869.48 C1446.68,867.66 1447.54,865.85 1448.41,864.05 C1449.28,862.24 1450.16,860.44 1451.05,858.64 C1451.93,856.85 1452.83,855.06 1453.75,853.27 C1454.66,851.49 1455.58,849.71 1456.52,847.94 C1457.46,846.17 1458.41,844.41 1459.38,842.65 C1460.35,840.90 1461.34,839.15 1462.34,837.42 C1463.34,835.68 1464.35,833.96 1465.39,832.24 C1466.42,830.53 1467.48,828.82 1468.55,827.13 C1469.62,825.43 1470.71,823.75 1471.81,822.08 C1472.92,820.41 1474.04,818.75 1475.19,817.11 C1476.33,815.46 1477.49,813.82 1478.67,812.20 C1479.84,810.58 1481.04,808.97 1482.25,807.38 C1483.46,805.78 1484.66,804.17 1485.93,802.63 C1487.20,801.08 1488.38,799.38 1489.88,798.10 C1491.38,796.82 1493.09,795.55 1494.92,794.93 C1496.75,794.30 1498.89,794.27 1500.87,794.33 C1502.85,794.39 1504.85,794.84 1506.79,795.31 C1508.73,795.78 1510.66,796.41 1512.51,797.16 C1514.36,797.92 1516.17,798.81 1517.89,799.82 C1519.61,800.83 1521.27,801.99 1522.84,803.23 C1524.40,804.47 1525.88,805.85 1527.28,807.27 C1528.68,808.70 1529.98,810.24 1531.22,811.81 C1532.46,813.38 1533.62,815.02 1534.72,816.69 C1535.82,818.36 1536.85,820.09 1537.84,821.83 C1538.84,823.57 1539.77,825.34 1540.67,827.13 C1541.58,828.92 1542.44,830.73 1543.29,832.54 C1544.14,834.36 1544.95,836.19 1545.77,838.02 C1546.58,839.85 1547.37,841.69 1548.17,843.53 C1548.96,845.37 1549.75,847.21 1550.52,849.06 C1551.30,850.91 1552.08,852.76 1552.84,854.61 C1553.61,856.46 1554.37,858.31 1555.12,860.17 C1555.88,862.02 1556.63,863.88 1557.37,865.74 C1558.12,867.60 1558.86,869.46 1559.60,871.33 C1560.33,873.19 1561.07,875.05 1561.80,876.92 C1562.53,878.79 1563.26,880.65 1563.98,882.52 C1564.71,884.39 1565.43,886.26 1566.15,888.13 C1566.88,889.99 1567.60,891.86 1568.32,893.73 C1569.04,895.60 1569.76,897.47 1570.48,899.34 C1571.20,901.21 1571.92,903.08 1572.64,904.95 C1573.37,906.82 1574.09,908.69 1574.82,910.56 C1575.54,912.42 1576.27,914.29 1577.00,916.16 C1577.73,918.02 1578.46,919.89 1579.20,921.75 C1579.94,923.61 1580.68,925.47 1581.43,927.33 C1582.17,929.19 1582.92,931.05 1583.68,932.91 C1584.44,934.76 1585.20,936.61 1585.97,938.47 C1586.74,940.32 1587.51,942.16 1588.29,944.01 C1589.08,945.85 1589.86,947.70 1590.66,949.53 C1591.46,951.37 1592.26,953.21 1593.08,955.04 C1593.89,956.87 1594.72,958.70 1595.55,960.52 C1596.38,962.34 1597.22,964.16 1598.08,965.97 C1598.93,967.78 1599.79,969.59 1600.67,971.39 C1601.54,973.20 1602.43,974.99 1603.33,976.79 C1604.22,978.58 1605.13,980.36 1606.06,982.14 C1606.98,983.92 1607.91,985.69 1608.86,987.46 C1609.81,989.22 1610.77,990.98 1611.75,992.73 C1612.72,994.48 1613.71,996.22 1614.72,997.96 C1615.72,999.69 1616.74,1001.42 1617.77,1003.13 C1618.80,1004.85 1619.85,1006.56 1620.92,1008.26 C1621.98,1009.96 1623.06,1011.64 1624.15,1013.32 C1625.25,1015.00 1626.36,1016.67 1627.48,1018.33 C1628.61,1019.99 1629.75,1021.63 1630.91,1023.27 C1632.07,1024.90 1633.24,1026.53 1634.43,1028.14 C1635.63,1029.74 1636.84,1031.34 1638.08,1032.91 C1639.32,1034.48 1640.59,1036.04 1641.89,1037.56 C1643.19,1039.08 1644.53,1040.58 1645.90,1042.04 C1647.28,1043.50 1648.69,1044.92 1650.14,1046.30 C1651.60,1047.67 1653.10,1049.00 1654.65,1050.27 C1656.20,1051.54 1657.80,1052.76 1659.45,1053.89 C1661.10,1055.02 1662.80,1056.10 1664.55,1057.07 C1666.29,1058.05 1668.09,1058.95 1669.93,1059.74 C1671.77,1060.52 1673.66,1061.22 1675.57,1061.81 C1677.48,1062.39 1679.44,1062.87 1681.41,1063.24 C1683.37,1063.60 1685.37,1063.87 1687.37,1064.00 C1689.36,1064.14 1691.38,1064.18 1693.37,1064.06 C1695.37,1063.95 1697.37,1063.70 1699.33,1063.31 C1701.29,1062.91 1703.23,1062.36 1705.11,1061.69 C1707.00,1061.02 1708.84,1060.20 1710.62,1059.29 C1712.40,1058.38 1714.13,1057.34 1715.80,1056.24 C1717.47,1055.13 1719.07,1053.92 1720.63,1052.66 C1722.18,1051.40 1723.67,1050.06 1725.12,1048.67 C1726.57,1047.29 1727.96,1045.84 1729.31,1044.36 C1730.66,1042.88 1731.96,1041.35 1733.22,1039.80 C1734.49,1038.25 1735.71,1036.66 1736.89,1035.04 C1738.08,1033.43 1739.23,1031.78 1740.34,1030.12 C1741.45,1028.45 1742.52,1026.75 1743.56,1025.04 C1744.60,1023.33 1745.60,1021.59 1746.57,1019.84 C1747.53,1018.08 1748.46,1016.31 1749.36,1014.52 C1750.26,1012.73 1751.13,1010.92 1751.97,1009.10 C1752.81,1007.28 1753.61,1005.44 1754.39,1003.60 C1755.17,1001.75 1755.92,999.90 1756.65,998.03 C1757.38,996.16 1758.08,994.28 1758.76,992.40 C1759.44,990.52 1760.10,988.62 1760.74,986.72 C1761.38,984.82 1761.99,982.92 1762.60,981.01 C1763.20,979.10 1763.78,977.18 1764.35,975.26 C1764.92,973.34 1765.48,971.41 1766.02,969.48 C1766.57,967.56 1767.10,965.62 1767.63,963.69 C1768.16,961.76 1768.67,959.82 1769.18,957.88 C1769.69,955.95 1770.20,954.01 1770.70,952.07 C1771.19,950.13 1771.69,948.18 1772.17,946.24 C1772.66,944.30 1773.14,942.35 1773.62,940.40 C1774.09,938.46 1774.56,936.51 1775.02,934.56 C1775.49,932.61 1775.94,930.66 1776.39,928.71 C1776.85,926.76 1777.29,924.80 1777.73,922.85 C1778.17,920.89 1778.60,918.94 1779.03,916.98 C1779.45,915.02 1779.88,913.06 1780.29,911.10 C1780.71,909.14 1781.11,907.18 1781.52,905.22 C1781.92,903.25 1782.32,901.29 1782.71,899.32 C1783.10,897.36 1783.49,895.39 1783.87,893.43 C1784.25,891.46 1784.62,889.49 1784.99,887.52 C1785.36,885.55 1785.73,883.58 1786.09,881.61 C1786.45,879.64 1786.81,877.67 1787.16,875.70 C1787.51,873.72 1787.86,871.75 1788.20,869.78 C1788.54,867.80 1788.88,865.83 1789.22,863.85 C1789.55,861.88 1789.88,859.90 1790.21,857.92 C1790.54,855.95 1790.86,853.97 1791.18,851.99 C1791.50,850.01 1791.82,848.03 1792.14,846.05 C1792.45,844.08 1792.76,842.10 1793.07,840.12 C1793.38,838.14 1793.69,836.16 1793.99,834.18 C1794.29,832.20 1794.59,830.21 1794.89,828.23 C1795.19,826.25 1795.49,824.27 1795.78,822.29 C1796.08,820.31 1796.37,818.32 1796.66,816.34 C1796.95,814.36 1797.24,812.38 1797.53,810.39 C1797.82,808.41 1798.11,806.43 1798.39,804.44 C1798.68,802.46 1798.96,800.48 1799.25,798.49 C1799.53,796.51 1799.81,794.53 1800.10,792.54 C1800.38,790.56 1800.66,788.58 1800.94,786.59 C1801.22,784.61 1801.51,782.63 1801.79,780.64 C1802.07,778.66 1802.35,776.67 1802.63,774.69 C1802.92,772.71 1803.20,770.72 1803.48,768.74 C1803.76,766.75 1804.04,764.77 1804.32,762.79 C1804.61,760.80 1804.89,758.82 1805.17,756.84 C1805.45,754.85 1805.73,752.87 1806.01,750.88 C1806.29,748.90 1806.57,746.92 1806.85,744.93 C1807.13,742.95 1807.41,740.96 1807.69,738.98 C1807.97,737.00 1808.25,735.01 1808.53,733.03 C1808.81,731.04 1809.09,729.06 1809.37,727.07 C1809.65,725.09 1809.92,723.11 1810.20,721.12 C1810.48,719.14 1810.76,717.15 1811.03,715.17 C1811.31,713.18 1811.59,711.20 1811.86,709.21 C1812.14,707.23 1812.41,705.25 1812.69,703.26 C1812.96,701.28 1813.23,699.29 1813.51,697.31 C1813.78,695.32 1814.05,693.34 1814.33,691.35 C1814.60,689.37 1814.87,687.38 1815.14,685.39 C1815.41,683.41 1815.68,681.42 1815.95,679.44 C1816.22,677.45 1816.48,675.47 1816.75,673.48 C1817.02,671.50 1817.29,669.51 1817.55,667.52 C1817.82,665.54 1818.08,663.55 1818.35,661.56 C1818.61,659.58 1818.87,657.59 1819.13,655.61 C1819.40,653.62 1819.66,651.63 1819.92,649.65 C1820.18,647.66 1820.44,645.67 1820.69,643.69 C1820.95,641.70 1821.21,639.71 1821.47,637.72 C1821.72,635.74 1821.98,633.75 1822.23,631.76 C1822.48,629.77 1822.74,627.79 1822.99,625.80 C1823.24,623.81 1823.49,621.82 1823.74,619.83 C1823.98,617.85 1824.23,615.86 1824.48,613.87 C1824.72,611.88 1824.97,609.89 1825.21,607.90 C1825.46,605.91 1825.70,603.92 1825.94,601.94 C1826.18,599.95 1826.42,597.96 1826.66,595.97 C1826.90,593.98 1827.13,591.99 1827.37,590.00 C1827.60,588.01 1827.84,586.02 1828.07,584.03 C1828.30,582.04 1828.53,580.05 1828.76,578.06 C1828.99,576.07 1829.22,574.08 1829.44,572.08 C1829.67,570.09 1829.89,568.10 1830.12,566.11 C1830.34,564.12 1830.56,562.13 1830.78,560.14 C1831.00,558.15 1831.21,556.15 1831.43,554.16 C1831.65,552.17 1831.86,550.18 1832.07,548.18 C1832.28,546.19 1832.49,544.20 1832.70,542.21 C1832.91,540.21 1833.12,538.22 1833.32,536.23 C1833.53,534.23 1833.73,532.24 1833.93,530.25 C1834.13,528.25 1834.33,526.26 1834.53,524.27 C1834.73,522.27 1834.92,520.28 1835.12,518.28 C1835.31,516.29 1835.50,514.29 1835.69,512.30 C1835.88,510.30 1836.07,508.31 1836.26,506.32 C1836.44,504.32 1836.63,502.33 1836.82,500.33 C1837.00,498.34 1837.19,496.34 1837.38,494.35 C1837.56,492.35 1837.75,490.36 1837.94,488.36 C1838.12,486.37 1838.31,484.37 1838.50,482.38 C1838.69,480.38 1838.88,478.39 1839.07,476.39 C1839.27,474.40 1839.46,472.40 1839.65,470.41 C1839.85,468.41 1840.05,466.42 1840.25,464.43 C1840.45,462.43 1840.65,460.44 1840.86,458.45 C1841.07,456.45 1841.28,454.46 1841.49,452.47 C1841.70,450.48 1841.92,448.48 1842.14,446.49 C1842.36,444.50 1842.59,442.51 1842.82,440.52 C1843.05,438.53 1843.29,436.54 1843.53,434.55 C1843.77,432.56 1844.01,430.57 1844.26,428.59 C1844.52,426.60 1844.77,424.61 1845.04,422.62 C1845.30,420.64 1845.57,418.65 1845.85,416.67 C1846.13,414.68 1846.41,412.70 1846.70,410.72 C1846.99,408.74 1847.29,406.75 1847.60,404.77 C1847.91,402.79 1848.22,400.82 1848.55,398.84 C1848.87,396.86 1849.20,394.88 1849.54,392.91 C1849.88,390.94 1850.23,388.96 1850.59,386.99 C1850.95,385.02 1851.32,383.05 1851.70,381.08 C1852.08,379.12 1852.47,377.15 1852.87,375.19 C1853.28,373.22 1853.69,371.26 1854.11,369.31 C1854.53,367.35 1854.97,365.39 1855.41,363.44 C1855.86,361.48 1856.32,359.53 1856.80,357.59 C1857.28,355.64 1857.77,353.70 1858.28,351.76 C1858.79,349.83 1859.32,347.89 1859.86,345.96 C1860.41,344.03 1860.95,342.11 1861.54,340.19 C1862.13,338.28 1862.68,336.34 1863.40,334.47 C1864.11,332.61 1864.79,330.67 1865.83,328.98 C1866.86,327.30 1868.05,325.26 1869.61,324.37 C1871.17,323.47 1873.63,322.97 1875.17,323.62 C1876.71,324.28 1877.83,326.61 1878.84,328.30 C1879.86,330.00 1880.51,331.95 1881.26,333.81 C1882.01,335.66 1882.68,337.55 1883.34,339.45 C1883.99,341.34 1884.61,343.25 1885.18,345.17 C1885.76,347.08 1886.30,349.02 1886.82,350.95 C1887.33,352.89 1887.80,354.84 1888.27,356.79 C1888.73,358.74 1889.16,360.69 1889.59,362.65 C1890.01,364.61 1890.42,366.57 1890.82,368.53 C1891.22,370.50 1891.60,372.46 1891.97,374.43 C1892.35,376.40 1892.71,378.37 1893.06,380.34 C1893.41,382.32 1893.74,384.29 1894.07,386.27 C1894.40,388.25 1894.72,390.23 1895.02,392.20 C1895.33,394.18 1895.63,396.17 1895.92,398.15 C1896.21,400.13 1896.49,402.12 1896.76,404.10 C1897.04,406.09 1897.30,408.07 1897.56,410.06 C1897.82,412.05 1898.07,414.03 1898.32,416.02 C1898.57,418.01 1898.81,420.00 1899.04,421.99 C1899.28,423.98 1899.51,425.97 1899.74,427.96 C1899.96,429.95 1900.18,431.94 1900.40,433.93 C1900.62,435.93 1900.84,437.92 1901.05,439.91 C1901.26,441.90 1901.47,443.90 1901.68,445.89 C1901.89,447.88 1902.09,449.87 1902.30,451.87 C1902.51,453.86 1902.71,455.85 1902.91,457.85 C1903.12,459.84 1903.32,461.83 1903.53,463.83 C1903.73,465.82 1903.93,467.81 1904.14,469.81 C1904.34,471.80 1904.54,473.79 1904.74,475.79 C1904.94,477.78 1905.15,479.77 1905.35,481.77 C1905.55,483.76 1905.75,485.76 1905.95,487.75 C1906.15,489.74 1906.35,491.74 1906.55,493.73 C1906.75,495.72 1906.95,497.72 1907.15,499.71 C1907.34,501.71 1907.54,503.70 1907.74,505.69 C1907.94,507.69 1908.14,509.68 1908.33,511.68 C1908.53,513.67 1908.73,515.66 1908.93,517.66 C1909.12,519.65 1909.32,521.65 1909.52,523.64 C1909.71,525.63 1909.91,527.63 1910.11,529.62 C1910.30,531.62 1910.50,533.61 1910.69,535.60 C1910.89,537.60 1911.08,539.59 1911.28,541.59 C1911.47,543.58 1911.67,545.57 1911.86,547.57 C1912.06,549.56 1912.25,551.56 1912.45,553.55 C1912.64,555.55 1912.84,557.54 1913.03,559.53 C1913.22,561.53 1913.42,563.52 1913.61,565.52 C1913.81,567.51 1914.00,569.51 1914.19,571.50 C1914.39,573.49 1914.58,575.49 1914.77,577.48 C1914.97,579.48 1915.16,581.47 1915.35,583.47 C1915.55,585.46 1915.74,587.46 1915.93,589.45 C1916.13,591.44 1916.32,593.44 1916.51,595.43 C1916.71,597.43 1916.90,599.42 1917.09,601.42 C1917.29,603.41 1917.48,605.40 1917.67,607.40 C1917.87,609.39 1918.06,611.39 1918.25,613.38 C1918.45,615.38 1918.64,617.37 1918.83,619.37 C1919.03,621.36 1919.22,623.35 1919.41,625.35 C1919.61,627.34 1919.80,629.34 1919.99,631.33 C1920.19,633.33 1920.38,635.32 1920.58,637.31 C1920.77,639.31 1920.96,641.30 1921.16,643.30 C1921.35,645.29 1921.55,647.29 1921.74,649.28 C1921.94,651.27 1922.13,653.27 1922.33,655.26 C1922.52,657.26 1922.72,659.25 1922.91,661.24 C1923.11,663.24 1923.30,665.23 1923.50,667.23 C1923.69,669.22 1923.89,671.22 1924.09,673.21 C1924.28,675.20 1924.48,677.20 1924.68,679.19 C1924.87,681.19 1925.07,683.18 1925.27,685.17 C1925.46,687.17 1925.66,689.16 1925.86,691.16 C1926.06,693.15 1926.26,695.14 1926.45,697.14 C1926.65,699.13 1926.85,701.13 1927.05,703.12 C1927.25,705.11 1927.45,707.11 1927.65,709.10 C1927.85,711.09 1928.05,713.09 1928.25,715.08 C1928.45,717.07 1928.65,719.07 1928.85,721.06 C1929.06,723.06 1929.26,725.05 1929.46,727.04 C1929.66,729.04 1929.87,731.03 1930.07,733.02 C1930.27,735.02 1930.48,737.01 1930.68,739.00 C1930.88,741.00 1931.09,742.99 1931.29,744.98 C1931.50,746.98 1931.70,748.97 1931.91,750.96 C1932.12,752.95 1932.32,754.95 1932.53,756.94 C1932.74,758.93 1932.95,760.93 1933.15,762.92 C1933.36,764.91 1933.57,766.91 1933.78,768.90 C1933.99,770.89 1934.20,772.88 1934.41,774.88 C1934.62,776.87 1934.83,778.86 1935.04,780.85 C1935.26,782.85 1935.47,784.84 1935.68,786.83 C1935.89,788.82 1936.11,790.82 1936.32,792.81 C1936.54,794.80 1936.75,796.79 1936.97,798.78 C1937.18,800.78 1937.40,802.77 1937.62,804.76 C1937.83,806.75 1938.05,808.74 1938.27,810.74 C1938.49,812.73 1938.71,814.72 1938.93,816.71 C1939.15,818.70 1939.37,820.69 1939.59,822.69 C1939.81,824.68 1940.03,826.67 1940.26,828.66 C1940.48,830.65 1940.70,832.64 1940.93,834.63 C1941.15,836.62 1941.38,838.61 1941.61,840.61 C1941.83,842.60 1942.06,844.59 1942.29,846.58 C1942.52,848.57 1942.75,850.56 1942.98,852.55 C1943.21,854.54 1943.44,856.53 1943.68,858.52 C1943.91,860.51 1944.14,862.50 1944.38,864.49 C1944.61,866.48 1944.85,868.47 1945.09,870.46 C1945.33,872.45 1945.56,874.44 1945.80,876.43 C1946.04,878.42 1946.28,880.41 1946.53,882.39 C1946.77,884.38 1947.01,886.37 1947.26,888.36 C1947.50,890.35 1947.75,892.34 1947.99,894.33 C1948.24,896.32 1948.49,898.30 1948.74,900.29 C1948.99,902.28 1949.24,904.27 1949.49,906.26 C1949.75,908.24 1950.00,910.23 1950.26,912.22 C1950.51,914.21 1950.77,916.19 1951.03,918.18 C1951.28,920.17 1951.54,922.15 1951.81,924.14 C1952.07,926.13 1952.33,928.11 1952.59,930.10 C1952.86,932.09 1953.12,934.07 1953.39,936.06 C1953.66,938.04 1953.93,940.03 1954.20,942.01 C1954.47,944.00 1954.74,945.98 1955.01,947.97 C1955.29,949.95 1955.56,951.94 1955.84,953.92 C1956.12,955.91 1956.40,957.89 1956.68,959.88 C1956.96,961.86 1957.24,963.84 1957.52,965.83 C1957.81,967.81 1958.09,969.79 1958.38,971.78 C1958.67,973.76 1958.96,975.74 1959.25,977.73 C1959.54,979.71 1959.83,981.69 1960.13,983.67 C1960.42,985.65 1960.72,987.64 1961.02,989.62 C1961.32,991.60 1961.62,993.58 1961.92,995.56 C1962.22,997.54 1962.53,999.52 1962.84,1001.50 C1963.14,1003.48 1963.45,1005.46 1963.76,1007.44 C1964.07,1009.42 1964.38,1011.40 1964.70,1013.38 C1965.02,1015.36 1965.33,1017.33 1965.65,1019.31 C1965.97,1021.29 1966.29,1023.27 1966.62,1025.25 C1966.94,1027.22 1967.27,1029.20 1967.60,1031.18 C1967.93,1033.15 1968.26,1035.13 1968.60,1037.10 C1968.94,1039.08 1969.27,1041.05 1969.62,1043.03 C1969.96,1045.00 1970.30,1046.98 1970.65,1048.95 C1971.00,1050.92 1971.35,1052.90 1971.71,1054.87 C1972.06,1056.84 1972.42,1058.81 1972.79,1060.78 C1973.15,1062.75 1973.52,1064.72 1973.89,1066.69 C1974.26,1068.66 1974.63,1070.63 1975.01,1072.60 C1975.39,1074.56 1975.77,1076.53 1976.16,1078.50 C1976.55,1080.46 1976.94,1082.43 1977.34,1084.39 C1977.73,1086.35 1978.13,1088.32 1978.54,1090.28 C1978.95,1092.24 1979.36,1094.20 1979.77,1096.16 C1980.19,1098.12 1980.61,1100.08 1981.03,1102.04 C1981.46,1104.00 1981.89,1105.96 1982.32,1107.91 C1982.76,1109.87 1983.20,1111.82 1983.65,1113.78 C1984.09,1115.73 1984.54,1117.68 1985.00,1119.63 C1985.46,1121.58 1985.92,1123.53 1986.39,1125.48 C1986.86,1127.43 1987.33,1129.38 1987.81,1131.32 C1988.29,1133.27 1988.78,1135.21 1989.27,1137.15 C1989.76,1139.09 1990.26,1141.04 1990.77,1142.97 C1991.27,1144.91 1991.78,1146.85 1992.30,1148.79 C1992.82,1150.72 1993.34,1152.66 1993.88,1154.59 C1994.41,1156.52 1994.95,1158.45 1995.50,1160.37 C1996.05,1162.30 1996.61,1164.23 1997.18,1166.15 C1997.75,1168.07 1998.33,1169.99 1998.92,1171.90 C1999.51,1173.82 2000.10,1175.73 2000.71,1177.64 C2001.32,1179.55 2001.94,1181.45 2002.58,1183.35 C2003.21,1185.25 2003.85,1187.15 2004.51,1189.04 C2005.17,1190.94 2005.84,1192.83 2006.52,1194.71 C2007.20,1196.59 2007.90,1198.47 2008.61,1200.35 C2009.32,1202.22 2010.04,1204.09 2010.78,1205.95 C2011.52,1207.81 2012.27,1209.67 2013.04,1211.52 C2013.81,1213.37 2014.59,1215.22 2015.39,1217.05 C2016.19,1218.89 2017.01,1220.72 2017.84,1222.54 C2018.68,1224.36 2019.53,1226.18 2020.40,1227.98 C2021.26,1229.79 2022.15,1231.59 2023.05,1233.38 C2023.96,1235.16 2024.88,1236.94 2025.82,1238.71 C2026.77,1240.48 2027.73,1242.24 2028.71,1243.98 C2029.69,1245.73 2030.69,1247.47 2031.71,1249.19 C2032.73,1250.92 2033.77,1252.63 2034.83,1254.33 C2035.89,1256.03 2036.97,1257.72 2038.08,1259.39 C2039.18,1261.06 2040.31,1262.72 2041.45,1264.36 C2042.60,1266.01 2043.76,1267.64 2044.95,1269.25 C2046.14,1270.86 2047.35,1272.46 2048.58,1274.04 C2049.82,1275.62 2051.07,1277.18 2052.35,1278.73 C2053.62,1280.27 2054.92,1281.80 2056.24,1283.31 C2057.56,1284.81 2058.90,1286.30 2060.26,1287.77 C2061.63,1289.24 2063.01,1290.69 2064.42,1292.12 C2065.82,1293.55 2067.25,1294.95 2068.69,1296.34 C2070.14,1297.73 2071.61,1299.09 2073.10,1300.43 C2074.59,1301.77 2076.10,1303.09 2077.63,1304.38 C2079.16,1305.67 2080.71,1306.94 2082.29,1308.18 C2083.86,1309.42 2085.45,1310.64 2087.07,1311.83 C2088.68,1313.02 2090.31,1314.18 2091.97,1315.31 C2093.62,1316.44 2095.29,1317.54 2096.98,1318.62 C2098.68,1319.69 2100.39,1320.73 2102.12,1321.74 C2103.85,1322.75 2105.60,1323.72 2107.37,1324.67 C2109.14,1325.61 2110.92,1326.52 2112.72,1327.40 C2114.52,1328.28 2116.34,1329.13 2118.17,1329.95 C2119.99,1330.77 2121.84,1331.56 2123.69,1332.32 C2125.54,1333.09 2127.41,1333.82 2129.28,1334.54 C2131.15,1335.25 2133.03,1335.93 2134.92,1336.60 C2136.81,1337.27 2138.71,1337.91 2140.61,1338.53 C2142.52,1339.16 2144.43,1339.76 2146.35,1340.35 C2148.26,1340.93 2150.18,1341.50 2152.11,1342.05 C2154.03,1342.61 2155.97,1343.15 2157.90,1343.67 C2159.83,1344.20 2161.77,1344.71 2163.71,1345.21 C2165.65,1345.71 2167.59,1346.20 2169.54,1346.69 C2171.48,1347.17 2173.43,1347.64 2175.38,1348.11 C2177.32,1348.58 2179.27,1349.05 2181.22,1349.51 C2183.17,1349.97 2185.13,1350.42 2187.08,1350.88 C2189.03,1351.33 2190.98,1351.78 2192.93,1352.24 C2194.88,1352.69 2196.83,1353.15 2198.78,1353.61 C2200.74,1354.07 2202.69,1354.53 2204.63,1355.00 C2206.58,1355.47 2208.53,1355.94 2210.47,1356.42 C2212.42,1356.91 2215.33,1357.65 2216.30,1357.90" fill="none" stroke="#00f" stroke-width="5.3"/>
<path d="M1249.00,1100.80 C1250.00,1100.83 1253.01,1100.92 1255.01,1100.98 C1257.02,1101.03 1259.02,1101.08 1261.03,1101.13 C1263.03,1101.18 1265.04,1101.22 1267.04,1101.26 C1269.05,1101.30 1271.05,1101.34 1273.06,1101.38 C1275.06,1101.41 1277.07,1101.45 1279.08,1101.48 C1281.08,1101.51 1283.09,1101.54 1285.09,1101.56 C1287.10,1101.59 1289.10,1101.61 1291.11,1101.64 C1293.11,1101.66 1295.12,1101.68 1297.13,1101.71 C1299.13,1101.73 1301.14,1101.75 1303.14,1101.77 C1305.15,1101.79 1307.15,1101.81 1309.16,1101.83 C1311.16,1101.85 1313.17,1101.87 1315.18,1101.90 C1317.18,1101.92 1319.19,1101.94 1321.19,1101.96 C1323.20,1101.99 1325.20,1102.01 1327.21,1102.04 C1329.21,1102.07 1331.22,1102.10 1333.23,1102.13 C1335.23,1102.16 1337.24,1102.20 1339.24,1102.24 C1341.25,1102.27 1343.25,1102.31 1345.26,1102.36 C1347.26,1102.40 1349.27,1102.45 1351.27,1102.50 C1353.28,1102.56 1355.28,1102.61 1357.29,1102.67 C1359.29,1102.73 1361.30,1102.80 1363.30,1102.87 C1365.31,1102.94 1367.31,1103.02 1369.32,1103.10 C1371.32,1103.18 1373.32,1103.27 1375.33,1103.36 C1377.33,1103.46 1379.33,1103.56 1381.34,1103.67 C1383.34,1103.77 1385.34,1103.89 1387.34,1104.01 C1389.35,1104.13 1391.35,1104.26 1393.35,1104.39 C1395.35,1104.53 1397.35,1104.67 1399.35,1104.82 C1401.35,1104.98 1403.35,1105.13 1405.35,1105.30 C1407.35,1105.47 1409.34,1105.65 1411.34,1105.83 C1413.34,1106.02 1415.34,1106.21 1417.33,1106.42 C1419.33,1106.62 1421.32,1106.83 1423.31,1107.06 C1425.31,1107.28 1427.30,1107.51 1429.29,1107.75 C1431.28,1107.99 1433.27,1108.25 1435.26,1108.51 C1437.25,1108.77 1439.24,1109.04 1441.22,1109.32 C1443.21,1109.60 1445.19,1109.89 1447.17,1110.20 C1449.16,1110.50 1451.14,1110.81 1453.12,1111.14 C1455.10,1111.46 1457.08,1111.79 1459.05,1112.12 C1461.03,1112.46 1463.01,1112.80 1464.99,1113.13 C1466.96,1113.46 1468.94,1113.80 1470.92,1114.12 C1472.90,1114.45 1474.88,1114.77 1476.86,1115.07 C1478.85,1115.37 1480.83,1115.66 1482.82,1115.93 C1484.81,1116.19 1486.80,1116.45 1488.79,1116.67 C1490.78,1116.89 1492.78,1117.09 1494.78,1117.25 C1496.78,1117.41 1498.78,1117.54 1500.78,1117.63 C1502.79,1117.71 1504.79,1117.76 1506.80,1117.75 C1508.80,1117.74 1510.81,1117.69 1512.81,1117.57 C1514.81,1117.45 1516.82,1117.28 1518.80,1117.02 C1520.79,1116.77 1522.78,1116.45 1524.74,1116.05 C1526.70,1115.64 1528.66,1115.16 1530.58,1114.59 C1532.50,1114.02 1534.40,1113.35 1536.26,1112.61 C1538.12,1111.86 1539.94,1111.02 1541.74,1110.13 C1543.53,1109.24 1545.29,1108.26 1547.02,1107.25 C1548.75,1106.24 1550.44,1105.16 1552.11,1104.05 C1553.78,1102.94 1555.42,1101.78 1557.05,1100.60 C1558.67,1099.42 1560.26,1098.21 1561.85,1096.98 C1563.43,1095.75 1564.99,1094.49 1566.55,1093.22 C1568.10,1091.95 1569.64,1090.67 1571.18,1089.38 C1572.72,1088.10 1574.25,1086.80 1575.78,1085.50 C1577.31,1084.21 1578.84,1082.91 1580.38,1081.62 C1581.92,1080.34 1583.46,1079.05 1585.01,1077.78 C1586.56,1076.51 1588.12,1075.25 1589.70,1074.01 C1591.28,1072.78 1592.87,1071.56 1594.49,1070.37 C1596.11,1069.18 1597.74,1068.02 1599.40,1066.90 C1601.07,1065.78 1602.75,1064.68 1604.47,1063.65 C1606.19,1062.62 1607.93,1061.62 1609.71,1060.70 C1611.49,1059.78 1613.30,1058.90 1615.15,1058.13 C1617.00,1057.35 1618.88,1056.63 1620.79,1056.04 C1622.70,1055.45 1624.66,1054.93 1626.63,1054.59 C1628.60,1054.25 1630.61,1054.01 1632.61,1054.00 C1634.60,1053.99 1636.64,1054.13 1638.59,1054.51 C1640.55,1054.89 1642.50,1055.50 1644.33,1056.29 C1646.15,1057.09 1647.89,1058.15 1649.54,1059.28 C1651.19,1060.41 1652.72,1061.72 1654.21,1063.06 C1655.70,1064.40 1657.10,1065.85 1658.47,1067.31 C1659.84,1068.77 1661.15,1070.30 1662.44,1071.84 C1663.73,1073.37 1664.97,1074.95 1666.21,1076.52 C1667.46,1078.09 1668.67,1079.69 1669.89,1081.28 C1671.11,1082.87 1672.32,1084.47 1673.53,1086.08 C1674.73,1087.68 1675.93,1089.29 1677.13,1090.90 C1678.33,1092.50 1679.52,1094.12 1680.72,1095.73 C1681.91,1097.34 1683.10,1098.95 1684.30,1100.56 C1685.50,1102.17 1686.70,1103.78 1687.90,1105.38 C1689.11,1106.98 1690.32,1108.58 1691.54,1110.18 C1692.76,1111.77 1693.98,1113.35 1695.23,1114.93 C1696.47,1116.51 1697.72,1118.07 1698.99,1119.63 C1700.25,1121.18 1701.53,1122.73 1702.84,1124.25 C1704.14,1125.78 1705.46,1127.29 1706.80,1128.78 C1708.14,1130.27 1709.50,1131.74 1710.89,1133.19 C1712.28,1134.64 1713.69,1136.06 1715.13,1137.46 C1716.57,1138.86 1718.04,1140.23 1719.53,1141.56 C1721.02,1142.90 1722.55,1144.21 1724.10,1145.48 C1725.65,1146.75 1727.23,1147.98 1728.85,1149.18 C1730.46,1150.37 1732.10,1151.52 1733.77,1152.64 C1735.43,1153.75 1737.13,1154.82 1738.85,1155.86 C1740.56,1156.90 1742.30,1157.90 1744.05,1158.88 C1745.81,1159.85 1747.58,1160.79 1749.37,1161.70 C1751.15,1162.62 1752.95,1163.50 1754.76,1164.37 C1756.57,1165.23 1758.39,1166.07 1760.22,1166.89 C1762.05,1167.71 1763.90,1168.51 1765.74,1169.29 C1767.59,1170.07 1769.44,1170.84 1771.30,1171.59 C1773.16,1172.35 1775.02,1173.09 1776.89,1173.82 C1778.76,1174.55 1780.63,1175.27 1782.50,1175.99 C1784.37,1176.71 1786.25,1177.42 1788.13,1178.12 C1790.00,1178.83 1791.88,1179.54 1793.76,1180.24 C1795.64,1180.95 1797.51,1181.66 1799.39,1182.36 C1801.27,1183.07 1803.14,1183.78 1805.02,1184.49 C1806.90,1185.19 1808.78,1185.89 1810.66,1186.58 C1812.54,1187.28 1814.43,1187.97 1816.32,1188.64 C1818.20,1189.31 1820.10,1189.98 1821.99,1190.63 C1823.89,1191.28 1825.79,1191.92 1827.70,1192.54 C1829.61,1193.15 1831.52,1193.76 1833.44,1194.33 C1835.36,1194.91 1837.29,1195.48 1839.22,1196.01 C1841.15,1196.55 1843.09,1197.06 1845.04,1197.55 C1846.98,1198.04 1848.93,1198.51 1850.89,1198.95 C1852.85,1199.38 1854.81,1199.80 1856.78,1200.17 C1858.76,1200.53 1860.73,1200.87 1862.72,1201.14 C1864.71,1201.42 1866.70,1201.65 1868.70,1201.80 C1870.70,1201.95 1872.71,1202.04 1874.71,1202.03 C1876.71,1202.01 1878.73,1201.92 1880.72,1201.69 C1882.70,1201.45 1884.70,1201.11 1886.63,1200.60 C1888.56,1200.09 1890.48,1199.43 1892.31,1198.63 C1894.14,1197.84 1895.93,1196.88 1897.63,1195.83 C1899.33,1194.78 1900.96,1193.59 1902.51,1192.33 C1904.07,1191.07 1905.55,1189.69 1906.96,1188.27 C1908.37,1186.85 1909.71,1185.35 1910.99,1183.81 C1912.27,1182.27 1913.49,1180.67 1914.65,1179.04 C1915.82,1177.41 1916.93,1175.74 1918.01,1174.04 C1919.08,1172.35 1920.10,1170.62 1921.09,1168.88 C1922.09,1167.14 1923.03,1165.37 1923.96,1163.59 C1924.89,1161.81 1925.78,1160.01 1926.65,1158.20 C1927.52,1156.40 1928.36,1154.58 1929.19,1152.75 C1930.02,1150.93 1930.83,1149.09 1931.63,1147.25 C1932.43,1145.41 1933.21,1143.56 1933.99,1141.71 C1934.76,1139.87 1935.53,1138.01 1936.30,1136.16 C1937.06,1134.30 1937.82,1132.45 1938.58,1130.59 C1939.33,1128.73 1940.08,1126.87 1940.82,1125.01 C1941.57,1123.15 1942.31,1121.28 1943.05,1119.42 C1943.78,1117.55 1944.51,1115.68 1945.24,1113.81 C1945.97,1111.94 1946.69,1110.07 1947.41,1108.20 C1948.13,1106.33 1948.85,1104.46 1949.57,1102.58 C1950.28,1100.71 1950.99,1098.83 1951.70,1096.96 C1952.41,1095.08 1953.12,1093.21 1953.83,1091.33 C1954.53,1089.45 1955.24,1087.57 1955.94,1085.70 C1956.65,1083.82 1957.35,1081.94 1958.05,1080.06 C1958.76,1078.18 1959.46,1076.30 1960.17,1074.43 C1960.87,1072.55 1961.58,1070.67 1962.28,1068.79 C1962.99,1066.92 1963.70,1065.04 1964.41,1063.16 C1965.12,1061.29 1965.83,1059.41 1966.54,1057.54 C1967.26,1055.66 1967.97,1053.79 1968.69,1051.92 C1969.41,1050.05 1970.13,1048.17 1970.86,1046.30 C1971.58,1044.43 1972.30,1042.56 1973.04,1040.70 C1973.78,1038.83 1974.50,1036.96 1975.28,1035.11 C1976.07,1033.27 1976.85,1031.42 1977.73,1029.62 C1978.61,1027.82 1979.51,1026.01 1980.55,1024.30 C1981.59,1022.59 1982.69,1020.89 1983.97,1019.36 C1985.24,1017.83 1986.64,1016.32 1988.22,1015.12 C1989.80,1013.92 1991.57,1012.73 1993.43,1012.15 C1995.28,1011.58 1997.45,1011.31 1999.34,1011.64 C2001.23,1011.98 2003.11,1013.07 2004.77,1014.15 C2006.42,1015.23 2007.90,1016.67 2009.27,1018.12 C2010.65,1019.56 2011.89,1021.17 2013.03,1022.81 C2014.17,1024.45 2015.18,1026.20 2016.12,1027.97 C2017.05,1029.74 2017.86,1031.59 2018.63,1033.44 C2019.40,1035.29 2020.07,1037.18 2020.73,1039.07 C2021.39,1040.97 2021.98,1042.89 2022.59,1044.80 C2023.20,1046.71 2023.78,1048.63 2024.38,1050.54 C2024.98,1052.46 2025.59,1054.37 2026.20,1056.28 C2026.80,1058.19 2027.42,1060.10 2028.03,1062.01 C2028.64,1063.92 2029.26,1065.83 2029.88,1067.74 C2030.50,1069.64 2031.12,1071.55 2031.74,1073.46 C2032.35,1075.37 2032.98,1077.27 2033.59,1079.18 C2034.21,1081.09 2034.83,1083.00 2035.45,1084.91 C2036.07,1086.81 2036.68,1088.72 2037.30,1090.63 C2037.91,1092.54 2038.52,1094.45 2039.12,1096.37 C2039.73,1098.28 2040.33,1100.19 2040.93,1102.11 C2041.52,1104.02 2042.12,1105.94 2042.70,1107.86 C2043.28,1109.78 2043.86,1111.70 2044.44,1113.62 C2045.01,1115.54 2045.57,1117.47 2046.13,1119.39 C2046.68,1121.32 2047.23,1123.25 2047.77,1125.18 C2048.31,1127.11 2048.84,1129.05 2049.36,1130.98 C2049.88,1132.92 2050.39,1134.86 2050.90,1136.80 C2051.41,1138.74 2051.91,1140.68 2052.41,1142.63 C2052.91,1144.57 2053.40,1146.51 2053.88,1148.46 C2054.37,1150.40 2054.86,1152.35 2055.34,1154.30 C2055.82,1156.24 2056.30,1158.19 2056.78,1160.14 C2057.26,1162.09 2057.74,1164.04 2058.22,1165.98 C2058.70,1167.93 2059.17,1169.88 2059.65,1171.83 C2060.14,1173.77 2060.62,1175.72 2061.10,1177.67 C2061.59,1179.61 2062.08,1181.56 2062.57,1183.50 C2063.06,1185.45 2063.56,1187.39 2064.06,1189.33 C2064.56,1191.27 2065.07,1193.21 2065.58,1195.15 C2066.10,1197.09 2066.62,1199.03 2067.15,1200.96 C2067.68,1202.90 2068.21,1204.83 2068.76,1206.76 C2069.31,1208.69 2069.86,1210.62 2070.43,1212.54 C2070.99,1214.47 2071.57,1216.39 2072.16,1218.30 C2072.75,1220.22 2073.35,1222.14 2073.97,1224.04 C2074.58,1225.95 2075.21,1227.86 2075.85,1229.76 C2076.49,1231.66 2077.15,1233.55 2077.82,1235.44 C2078.50,1237.33 2079.19,1239.22 2079.89,1241.09 C2080.60,1242.97 2081.32,1244.84 2082.07,1246.70 C2082.81,1248.57 2083.57,1250.42 2084.35,1252.27 C2085.13,1254.12 2085.93,1255.96 2086.75,1257.79 C2087.57,1259.62 2088.42,1261.44 2089.28,1263.25 C2090.15,1265.06 2091.03,1266.86 2091.94,1268.64 C2092.85,1270.43 2093.78,1272.21 2094.74,1273.97 C2095.70,1275.73 2096.68,1277.48 2097.69,1279.22 C2098.69,1280.95 2099.72,1282.67 2100.78,1284.38 C2101.84,1286.08 2102.92,1287.77 2104.02,1289.45 C2105.13,1291.12 2106.26,1292.78 2107.42,1294.41 C2108.57,1296.05 2109.75,1297.68 2110.96,1299.28 C2112.16,1300.88 2113.39,1302.47 2114.65,1304.03 C2115.90,1305.60 2117.18,1307.14 2118.49,1308.66 C2119.79,1310.19 2121.12,1311.69 2122.47,1313.17 C2123.83,1314.65 2125.20,1316.11 2126.61,1317.54 C2128.01,1318.98 2129.44,1320.39 2130.89,1321.77 C2132.34,1323.16 2133.81,1324.52 2135.31,1325.85 C2136.81,1327.18 2138.33,1328.49 2139.88,1329.76 C2141.43,1331.04 2143.00,1332.29 2144.59,1333.51 C2146.19,1334.72 2147.80,1335.91 2149.44,1337.07 C2151.08,1338.22 2152.75,1339.35 2154.43,1340.43 C2156.11,1341.52 2157.82,1342.58 2159.55,1343.60 C2161.27,1344.62 2163.02,1345.60 2164.79,1346.55 C2166.56,1347.49 2168.35,1348.40 2170.16,1349.27 C2171.96,1350.14 2173.79,1350.97 2175.63,1351.76 C2177.48,1352.55 2179.34,1353.30 2181.21,1354.01 C2183.09,1354.72 2184.98,1355.38 2186.89,1356.00 C2188.80,1356.63 2190.72,1357.21 2192.65,1357.74 C2194.58,1358.27 2196.53,1358.76 2198.49,1359.21 C2200.44,1359.65 2202.41,1360.05 2204.38,1360.41 C2206.35,1360.76 2208.34,1361.07 2210.33,1361.34 C2212.31,1361.60 2215.31,1361.88 2216.31,1361.99" fill="none" stroke="#f0f" stroke-width="5.3"/>
<path d="M1248.00,1069.00 C1248.96,1068.71 1251.83,1067.81 1253.74,1067.23 C1255.66,1066.65 1257.59,1066.09 1259.51,1065.53 C1261.43,1064.97 1263.36,1064.42 1265.29,1063.87 C1267.21,1063.32 1269.14,1062.77 1271.07,1062.22 C1272.99,1061.67 1274.92,1061.12 1276.84,1060.56 C1278.77,1059.99 1280.69,1059.43 1282.61,1058.85 C1284.52,1058.27 1286.44,1057.68 1288.35,1057.07 C1290.26,1056.45 1292.16,1055.83 1294.06,1055.18 C1295.95,1054.54 1297.84,1053.87 1299.72,1053.18 C1301.60,1052.48 1303.47,1051.76 1305.33,1051.01 C1307.19,1050.26 1309.04,1049.48 1310.86,1048.67 C1312.69,1047.85 1314.51,1047.00 1316.30,1046.11 C1318.10,1045.22 1319.88,1044.29 1321.63,1043.32 C1323.38,1042.35 1325.11,1041.34 1326.82,1040.30 C1328.53,1039.26 1330.22,1038.17 1331.89,1037.06 C1333.55,1035.95 1335.20,1034.80 1336.82,1033.62 C1338.44,1032.44 1340.03,1031.23 1341.61,1029.99 C1343.18,1028.75 1344.73,1027.48 1346.26,1026.18 C1347.79,1024.89 1349.29,1023.56 1350.77,1022.21 C1352.26,1020.87 1353.72,1019.49 1355.15,1018.10 C1356.59,1016.70 1358.01,1015.28 1359.40,1013.84 C1360.80,1012.41 1362.17,1010.94 1363.52,1009.47 C1364.87,1007.99 1366.20,1006.49 1367.51,1004.97 C1368.82,1003.46 1370.11,1001.92 1371.39,1000.38 C1372.66,998.83 1373.91,997.26 1375.14,995.68 C1376.37,994.10 1377.59,992.51 1378.78,990.90 C1379.98,989.29 1381.16,987.67 1382.32,986.04 C1383.48,984.41 1384.62,982.76 1385.75,981.11 C1386.88,979.45 1387.99,977.78 1389.08,976.10 C1390.18,974.43 1391.26,972.74 1392.32,971.04 C1393.39,969.34 1394.44,967.63 1395.47,965.92 C1396.50,964.20 1397.52,962.48 1398.53,960.74 C1399.54,959.01 1400.53,957.27 1401.51,955.52 C1402.49,953.77 1403.45,952.02 1404.41,950.26 C1405.36,948.49 1406.30,946.72 1407.23,944.95 C1408.16,943.18 1409.08,941.39 1409.99,939.61 C1410.89,937.82 1411.79,936.03 1412.68,934.23 C1413.57,932.44 1414.45,930.64 1415.31,928.83 C1416.18,927.03 1417.04,925.22 1417.90,923.40 C1418.75,921.59 1419.60,919.77 1420.43,917.95 C1421.27,916.13 1422.10,914.31 1422.93,912.49 C1423.75,910.66 1424.57,908.83 1425.39,907.00 C1426.20,905.17 1427.01,903.34 1427.82,901.50 C1428.62,899.67 1429.43,897.83 1430.22,895.99 C1431.02,894.16 1431.82,892.32 1432.61,890.48 C1433.41,888.64 1434.20,886.80 1434.99,884.96 C1435.78,883.11 1436.57,881.27 1437.35,879.43 C1438.14,877.59 1438.93,875.75 1439.72,873.90 C1440.51,872.06 1441.30,870.22 1442.09,868.38 C1442.89,866.54 1443.68,864.70 1444.48,862.86 C1445.27,861.02 1446.07,859.19 1446.87,857.35 C1447.68,855.51 1448.48,853.68 1449.29,851.85 C1450.10,850.01 1450.92,848.18 1451.74,846.36 C1452.56,844.53 1453.38,842.70 1454.22,840.88 C1455.05,839.06 1455.89,837.24 1456.73,835.42 C1457.58,833.60 1458.43,831.79 1459.29,829.98 C1460.15,828.17 1461.02,826.37 1461.90,824.57 C1462.78,822.77 1463.67,820.97 1464.56,819.18 C1465.46,817.39 1466.37,815.60 1467.28,813.82 C1468.20,812.04 1469.13,810.26 1470.07,808.49 C1471.01,806.72 1471.95,804.95 1472.92,803.20 C1473.89,801.45 1474.86,799.69 1475.89,797.97 C1476.92,796.25 1477.96,794.54 1479.09,792.88 C1480.21,791.23 1481.37,789.59 1482.63,788.03 C1483.89,786.47 1485.21,784.95 1486.63,783.55 C1488.06,782.15 1489.57,780.80 1491.17,779.61 C1492.77,778.42 1494.48,777.33 1496.25,776.41 C1498.02,775.48 1499.88,774.69 1501.78,774.07 C1503.67,773.45 1505.65,772.94 1507.62,772.69 C1509.59,772.44 1511.64,772.35 1513.62,772.54 C1515.59,772.74 1517.58,773.21 1519.47,773.85 C1521.35,774.48 1523.18,775.38 1524.92,776.35 C1526.67,777.32 1528.32,778.48 1529.92,779.68 C1531.52,780.88 1533.04,782.20 1534.53,783.55 C1536.01,784.89 1537.44,786.30 1538.84,787.73 C1540.24,789.16 1541.61,790.63 1542.95,792.12 C1544.29,793.61 1545.60,795.12 1546.89,796.66 C1548.17,798.20 1549.43,799.76 1550.67,801.33 C1551.91,802.91 1553.12,804.50 1554.32,806.11 C1555.52,807.71 1556.70,809.33 1557.87,810.95 C1559.05,812.58 1560.20,814.22 1561.36,815.85 C1562.51,817.49 1563.66,819.14 1564.80,820.78 C1565.95,822.42 1567.10,824.06 1568.25,825.70 C1569.40,827.34 1570.56,828.98 1571.73,830.60 C1572.90,832.23 1574.08,833.85 1575.27,835.46 C1576.47,837.06 1577.69,838.66 1578.91,840.24 C1580.14,841.83 1581.38,843.40 1582.64,844.96 C1583.89,846.52 1585.16,848.07 1586.44,849.62 C1587.72,851.16 1589.01,852.70 1590.30,854.22 C1591.60,855.75 1592.90,857.27 1594.21,858.79 C1595.53,860.30 1596.85,861.81 1598.17,863.31 C1599.49,864.82 1600.82,866.32 1602.15,867.82 C1603.48,869.32 1604.82,870.81 1606.15,872.30 C1607.49,873.80 1608.82,875.29 1610.16,876.78 C1611.49,878.28 1612.83,879.77 1614.17,881.26 C1615.50,882.76 1616.83,884.25 1618.16,885.75 C1619.49,887.25 1620.82,888.76 1622.14,890.26 C1623.46,891.77 1624.78,893.28 1626.08,894.80 C1627.39,896.31 1628.70,897.84 1629.99,899.37 C1631.29,900.89 1632.57,902.43 1633.85,903.98 C1635.12,905.52 1636.39,907.07 1637.65,908.63 C1638.90,910.20 1640.14,911.77 1641.37,913.35 C1642.60,914.94 1643.82,916.53 1645.01,918.13 C1646.21,919.74 1647.40,921.36 1648.56,922.99 C1649.72,924.62 1650.87,926.26 1651.99,927.92 C1653.12,929.58 1654.22,931.25 1655.30,932.94 C1656.38,934.63 1657.43,936.33 1658.47,938.05 C1659.52,939.76 1660.53,941.48 1661.55,943.21 C1662.57,944.94 1663.57,946.67 1664.58,948.40 C1665.59,950.13 1666.59,951.87 1667.60,953.60 C1668.61,955.33 1669.62,957.06 1670.65,958.78 C1671.68,960.49 1672.72,962.21 1673.78,963.91 C1674.85,965.61 1675.92,967.30 1677.02,968.97 C1678.13,970.64 1679.24,972.31 1680.40,973.94 C1681.55,975.58 1682.73,977.21 1683.96,978.79 C1685.18,980.38 1686.43,981.94 1687.75,983.46 C1689.06,984.97 1690.41,986.46 1691.83,987.86 C1693.25,989.27 1694.72,990.65 1696.28,991.90 C1697.83,993.16 1699.45,994.37 1701.16,995.40 C1702.87,996.44 1704.66,997.39 1706.52,998.11 C1708.38,998.83 1710.34,999.40 1712.30,999.70 C1714.27,1000.00 1716.32,1000.07 1718.30,999.91 C1720.28,999.75 1722.27,999.31 1724.18,998.75 C1726.10,998.19 1727.97,997.42 1729.77,996.55 C1731.57,995.69 1733.32,994.67 1734.97,993.54 C1736.62,992.42 1738.20,991.16 1739.67,989.81 C1741.14,988.46 1742.52,986.98 1743.80,985.44 C1745.07,983.90 1746.24,982.26 1747.33,980.59 C1748.43,978.91 1749.42,977.16 1750.36,975.39 C1751.30,973.62 1752.15,971.81 1752.96,969.98 C1753.78,968.15 1754.53,966.29 1755.27,964.43 C1756.00,962.56 1756.70,960.68 1757.38,958.80 C1758.05,956.91 1758.71,955.02 1759.34,953.12 C1759.97,951.21 1760.58,949.30 1761.16,947.39 C1761.75,945.47 1762.32,943.55 1762.87,941.63 C1763.42,939.70 1763.95,937.77 1764.47,935.83 C1764.99,933.90 1765.49,931.96 1765.98,930.01 C1766.48,928.07 1766.95,926.12 1767.42,924.18 C1767.89,922.23 1768.35,920.28 1768.80,918.33 C1769.26,916.37 1769.70,914.42 1770.14,912.47 C1770.58,910.51 1771.02,908.56 1771.45,906.60 C1771.88,904.64 1772.31,902.68 1772.73,900.73 C1773.15,898.77 1773.56,896.81 1773.97,894.85 C1774.38,892.88 1774.79,890.92 1775.19,888.96 C1775.59,887.00 1775.99,885.03 1776.39,883.07 C1776.78,881.10 1777.17,879.14 1777.55,877.17 C1777.94,875.21 1778.32,873.24 1778.70,871.27 C1779.08,869.30 1779.45,867.33 1779.83,865.37 C1780.20,863.40 1780.57,861.43 1780.93,859.46 C1781.30,857.49 1781.66,855.52 1782.02,853.55 C1782.38,851.57 1782.74,849.60 1783.09,847.63 C1783.45,845.66 1783.80,843.69 1784.15,841.71 C1784.51,839.74 1784.85,837.77 1785.20,835.80 C1785.55,833.82 1785.89,831.85 1786.24,829.87 C1786.58,827.90 1786.93,825.93 1787.27,823.95 C1787.61,821.98 1787.95,820.00 1788.29,818.03 C1788.63,816.05 1788.97,814.08 1789.31,812.10 C1789.64,810.13 1789.98,808.15 1790.32,806.18 C1790.66,804.20 1790.99,802.23 1791.33,800.25 C1791.67,798.28 1792.01,796.30 1792.34,794.33 C1792.68,792.35 1793.02,790.38 1793.36,788.40 C1793.70,786.43 1794.04,784.45 1794.38,782.48 C1794.72,780.50 1795.06,778.53 1795.40,776.56 C1795.74,774.58 1796.08,772.61 1796.42,770.63 C1796.76,768.66 1797.10,766.68 1797.45,764.71 C1797.79,762.73 1798.13,760.76 1798.47,758.79 C1798.81,756.81 1799.15,754.84 1799.49,752.86 C1799.83,750.89 1800.18,748.91 1800.52,746.94 C1800.86,744.96 1801.20,742.99 1801.53,741.02 C1801.87,739.04 1802.21,737.07 1802.55,735.09 C1802.89,733.12 1803.22,731.14 1803.56,729.16 C1803.89,727.19 1804.23,725.21 1804.56,723.24 C1804.89,721.26 1805.22,719.29 1805.55,717.31 C1805.88,715.33 1806.21,713.36 1806.54,711.38 C1806.86,709.40 1807.19,707.43 1807.51,705.45 C1807.84,703.47 1808.16,701.49 1808.48,699.51 C1808.80,697.54 1809.11,695.56 1809.43,693.58 C1809.74,691.60 1810.05,689.62 1810.36,687.64 C1810.67,685.66 1810.98,683.68 1811.29,681.70 C1811.59,679.72 1811.89,677.74 1812.19,675.76 C1812.49,673.78 1812.79,671.80 1813.08,669.81 C1813.38,667.83 1813.67,665.85 1813.95,663.87 C1814.24,661.88 1814.53,659.90 1814.81,657.92 C1815.09,655.93 1815.36,653.95 1815.64,651.96 C1815.91,649.98 1816.18,647.99 1816.45,646.01 C1816.71,644.02 1816.98,642.03 1817.24,640.05 C1817.49,638.06 1817.75,636.07 1818.00,634.09 C1818.25,632.10 1818.49,630.11 1818.74,628.12 C1818.98,626.13 1819.22,624.14 1819.46,622.15 C1819.69,620.16 1819.92,618.17 1820.15,616.18 C1820.38,614.19 1820.61,612.20 1820.83,610.21 C1821.06,608.22 1821.28,606.23 1821.50,604.23 C1821.72,602.24 1821.93,600.25 1822.15,598.26 C1822.36,596.27 1822.57,594.27 1822.79,592.28 C1823.00,590.29 1823.20,588.30 1823.41,586.30 C1823.62,584.31 1823.82,582.32 1824.03,580.32 C1824.23,578.33 1824.44,576.34 1824.64,574.34 C1824.84,572.35 1825.04,570.36 1825.24,568.36 C1825.44,566.37 1825.64,564.38 1825.84,562.38 C1826.04,560.39 1826.24,558.39 1826.44,556.40 C1826.64,554.41 1826.84,552.41 1827.04,550.42 C1827.24,548.43 1827.44,546.43 1827.64,544.44 C1827.84,542.45 1828.04,540.45 1828.24,538.46 C1828.44,536.46 1828.64,534.47 1828.85,532.48 C1829.05,530.48 1829.26,528.49 1829.46,526.50 C1829.67,524.50 1829.88,522.51 1830.08,520.52 C1830.29,518.53 1830.50,516.53 1830.72,514.54 C1830.93,512.55 1831.14,510.56 1831.36,508.56 C1831.57,506.57 1831.79,504.58 1832.01,502.59 C1832.23,500.60 1832.44,498.61 1832.67,496.61 C1832.89,494.62 1833.11,492.63 1833.33,490.64 C1833.56,488.65 1833.78,486.66 1834.01,484.67 C1834.24,482.68 1834.46,480.69 1834.69,478.70 C1834.92,476.70 1835.16,474.71 1835.39,472.72 C1835.62,470.73 1835.86,468.74 1836.09,466.75 C1836.33,464.76 1836.56,462.78 1836.80,460.79 C1837.04,458.80 1837.28,456.81 1837.52,454.82 C1837.76,452.83 1838.01,450.84 1838.25,448.85 C1838.49,446.86 1838.74,444.87 1838.99,442.89 C1839.23,440.90 1839.48,438.91 1839.73,436.92 C1839.98,434.93 1840.23,432.94 1840.49,430.96 C1840.74,428.97 1840.99,426.98 1841.25,424.99 C1841.51,423.01 1841.76,421.02 1842.02,419.03 C1842.28,417.05 1842.54,415.06 1842.80,413.07 C1843.06,411.09 1843.33,409.10 1843.59,407.11 C1843.85,405.13 1844.12,403.14 1844.39,401.16 C1844.65,399.17 1844.92,397.18 1845.19,395.20 C1845.46,393.21 1845.73,391.23 1846.00,389.24 C1846.28,387.26 1846.55,385.27 1846.82,383.29 C1847.10,381.30 1847.38,379.32 1847.65,377.33 C1847.93,375.35 1848.21,373.37 1848.49,371.38 C1848.77,369.40 1849.06,367.41 1849.34,365.43 C1849.62,363.45 1849.91,361.46 1850.19,359.48 C1850.48,357.50 1850.77,355.52 1851.06,353.53 C1851.34,351.55 1851.63,349.57 1851.93,347.58 C1852.22,345.60 1852.51,343.62 1852.80,341.64 C1853.10,339.66 1853.39,337.67 1853.69,335.69 C1853.99,333.71 1854.29,331.73 1854.59,329.75 C1854.89,327.77 1855.19,325.79 1855.49,323.81 C1855.79,321.82 1856.09,319.84 1856.40,317.86 C1856.70,315.88 1857.01,313.90 1857.32,311.92 C1857.63,309.94 1857.93,307.96 1858.24,305.98 C1858.55,304.00 1858.86,302.03 1859.18,300.05 C1859.49,298.07 1859.79,296.09 1860.14,294.11 C1860.49,292.14 1860.84,290.16 1861.28,288.21 C1861.73,286.26 1862.21,284.31 1862.80,282.40 C1863.39,280.49 1864.06,278.59 1864.84,276.75 C1865.62,274.90 1866.44,273.05 1867.49,271.35 C1868.53,269.66 1869.59,267.66 1871.11,266.59 C1872.64,265.52 1874.86,264.68 1876.61,264.93 C1878.37,265.18 1880.25,266.73 1881.65,268.08 C1883.04,269.43 1884.07,271.29 1884.98,273.05 C1885.88,274.82 1886.47,276.78 1887.06,278.69 C1887.65,280.60 1888.06,282.57 1888.52,284.52 C1888.98,286.47 1889.39,288.43 1889.82,290.38 C1890.25,292.34 1890.69,294.30 1891.11,296.26 C1891.54,298.21 1891.96,300.17 1892.38,302.13 C1892.80,304.09 1893.21,306.05 1893.62,308.01 C1894.03,309.97 1894.43,311.94 1894.83,313.90 C1895.22,315.87 1895.61,317.83 1895.99,319.80 C1896.38,321.76 1896.75,323.73 1897.12,325.70 C1897.49,327.67 1897.86,329.64 1898.22,331.61 C1898.58,333.58 1898.93,335.56 1899.28,337.53 C1899.63,339.50 1899.97,341.48 1900.31,343.45 C1900.64,345.43 1900.98,347.40 1901.30,349.38 C1901.63,351.36 1901.95,353.33 1902.27,355.31 C1902.59,357.29 1902.91,359.27 1903.21,361.25 C1903.52,363.23 1903.83,365.21 1904.13,367.19 C1904.43,369.17 1904.73,371.15 1905.02,373.13 C1905.31,375.12 1905.60,377.10 1905.89,379.08 C1906.17,381.07 1906.45,383.05 1906.73,385.03 C1907.01,387.02 1907.28,389.00 1907.56,390.99 C1907.83,392.97 1908.10,394.96 1908.36,396.95 C1908.63,398.93 1908.89,400.92 1909.15,402.90 C1909.41,404.89 1909.67,406.88 1909.92,408.87 C1910.18,410.85 1910.43,412.84 1910.68,414.83 C1910.93,416.82 1911.18,418.80 1911.43,420.79 C1911.67,422.78 1911.92,424.77 1912.16,426.76 C1912.40,428.75 1912.64,430.74 1912.88,432.73 C1913.12,434.72 1913.36,436.71 1913.60,438.70 C1913.84,440.68 1914.07,442.67 1914.31,444.66 C1914.54,446.65 1914.78,448.64 1915.01,450.63 C1915.24,452.62 1915.47,454.61 1915.71,456.60 C1915.94,458.59 1916.17,460.59 1916.40,462.58 C1916.63,464.57 1916.86,466.56 1917.09,468.55 C1917.32,470.54 1917.55,472.53 1917.79,474.52 C1918.02,476.51 1918.25,478.50 1918.48,480.49 C1918.71,482.48 1918.94,484.47 1919.18,486.46 C1919.41,488.45 1919.64,490.44 1919.88,492.43 C1920.11,494.42 1920.35,496.41 1920.59,498.40 C1920.82,500.39 1921.06,502.38 1921.30,504.37 C1921.54,506.36 1921.78,508.35 1922.02,510.33 C1922.27,512.32 1922.51,514.31 1922.76,516.30 C1923.00,518.29 1923.25,520.28 1923.50,522.27 C1923.75,524.25 1924.00,526.24 1924.26,528.23 C1924.51,530.22 1924.77,532.20 1925.03,534.19 C1925.29,536.18 1925.55,538.16 1925.81,540.15 C1926.07,542.14 1926.34,544.12 1926.61,546.11 C1926.88,548.09 1927.15,550.08 1927.42,552.06 C1927.69,554.05 1927.97,556.03 1928.24,558.02 C1928.52,560.00 1928.80,561.99 1929.08,563.97 C1929.36,565.95 1929.65,567.94 1929.93,569.92 C1930.22,571.90 1930.51,573.89 1930.80,575.87 C1931.09,577.85 1931.38,579.83 1931.67,581.82 C1931.97,583.80 1932.26,585.78 1932.56,587.76 C1932.86,589.74 1933.16,591.72 1933.47,593.70 C1933.77,595.68 1934.07,597.66 1934.38,599.64 C1934.69,601.62 1935.00,603.60 1935.31,605.58 C1935.62,607.56 1935.94,609.54 1936.25,611.52 C1936.57,613.50 1936.89,615.48 1937.21,617.46 C1937.53,619.43 1937.85,621.41 1938.17,623.39 C1938.50,625.37 1938.82,627.34 1939.15,629.32 C1939.48,631.30 1939.81,633.27 1940.14,635.25 C1940.48,637.22 1940.81,639.20 1941.15,641.17 C1941.48,643.15 1941.82,645.12 1942.16,647.10 C1942.50,649.07 1942.85,651.05 1943.19,653.02 C1943.54,655.00 1943.88,656.97 1944.23,658.94 C1944.58,660.91 1944.94,662.89 1945.29,664.86 C1945.65,666.83 1946.01,668.80 1946.37,670.77 C1946.74,672.74 1947.11,674.71 1947.48,676.68 C1947.86,678.65 1948.24,680.61 1948.63,682.58 C1949.01,684.55 1949.41,686.51 1949.81,688.47 C1950.21,690.44 1950.62,692.40 1951.03,694.36 C1951.45,696.32 1951.87,698.28 1952.30,700.24 C1952.73,702.19 1953.18,704.15 1953.63,706.10 C1954.08,708.05 1954.54,710.00 1955.01,711.95 C1955.48,713.90 1955.96,715.84 1956.45,717.78 C1956.95,719.73 1957.45,721.66 1957.97,723.60 C1958.48,725.54 1959.01,727.47 1959.55,729.40 C1960.08,731.33 1960.63,733.26 1961.19,735.18 C1961.75,737.11 1962.32,739.03 1962.90,740.95 C1963.47,742.87 1964.06,744.78 1964.65,746.69 C1965.25,748.61 1965.85,750.52 1966.46,752.43 C1967.07,754.34 1967.69,756.24 1968.31,758.15 C1968.94,760.05 1969.57,761.95 1970.20,763.85 C1970.84,765.75 1971.48,767.65 1972.13,769.55 C1972.78,771.44 1973.43,773.34 1974.09,775.23 C1974.74,777.12 1975.40,779.01 1976.07,780.91 C1976.73,782.80 1977.40,784.68 1978.07,786.57 C1978.74,788.46 1979.42,790.35 1980.09,792.23 C1980.77,794.12 1981.44,796.01 1982.12,797.89 C1982.80,799.78 1983.48,801.66 1984.16,803.55 C1984.84,805.43 1985.52,807.32 1986.20,809.20 C1986.88,811.08 1987.56,812.97 1988.24,814.85 C1988.92,816.74 1989.60,818.62 1990.28,820.51 C1990.95,822.40 1991.63,824.28 1992.30,826.17 C1992.97,828.06 1993.64,829.95 1994.31,831.84 C1994.97,833.73 1995.64,835.62 1996.29,837.51 C1996.95,839.40 1997.61,841.30 1998.26,843.19 C1998.91,845.09 1999.55,846.98 2000.19,848.88 C2000.83,850.78 2001.46,852.68 2002.09,854.59 C2002.72,856.49 2003.34,858.39 2003.95,860.30 C2004.57,862.21 2005.17,864.12 2005.77,866.03 C2006.37,867.94 2006.97,869.86 2007.56,871.77 C2008.14,873.69 2008.72,875.60 2009.30,877.52 C2009.87,879.44 2010.44,881.37 2011.00,883.29 C2011.57,885.21 2012.12,887.14 2012.67,889.06 C2013.22,890.99 2013.77,892.92 2014.31,894.85 C2014.85,896.78 2015.38,898.71 2015.91,900.64 C2016.44,902.57 2016.96,904.51 2017.48,906.44 C2018.00,908.38 2018.52,910.31 2019.02,912.25 C2019.53,914.19 2020.04,916.13 2020.54,918.07 C2021.04,920.01 2021.53,921.95 2022.02,923.89 C2022.51,925.84 2023.00,927.78 2023.48,929.73 C2023.97,931.67 2024.44,933.62 2024.92,935.56 C2025.39,937.51 2025.86,939.46 2026.33,941.41 C2026.80,943.35 2027.26,945.30 2027.72,947.25 C2028.18,949.20 2028.64,951.15 2029.09,953.11 C2029.55,955.06 2030.00,957.01 2030.45,958.96 C2030.90,960.92 2031.34,962.87 2031.78,964.82 C2032.23,966.78 2032.67,968.73 2033.10,970.69 C2033.54,972.64 2033.98,974.60 2034.41,976.55 C2034.85,978.51 2035.28,980.47 2035.71,982.42 C2036.14,984.38 2036.56,986.34 2036.99,988.30 C2037.42,990.25 2037.84,992.21 2038.26,994.17 C2038.69,996.13 2039.11,998.09 2039.53,1000.05 C2039.95,1002.01 2040.37,1003.97 2040.79,1005.93 C2041.21,1007.88 2041.63,1009.84 2042.04,1011.80 C2042.46,1013.76 2042.88,1015.72 2043.30,1017.68 C2043.71,1019.64 2044.13,1021.60 2044.55,1023.56 C2044.96,1025.52 2045.38,1027.48 2045.79,1029.44 C2046.21,1031.40 2046.63,1033.36 2047.04,1035.32 C2047.46,1037.28 2047.88,1039.24 2048.30,1041.20 C2048.71,1043.16 2049.13,1045.12 2049.55,1047.08 C2049.97,1049.04 2050.39,1051.00 2050.81,1052.96 C2051.23,1054.92 2051.66,1056.88 2052.08,1058.83 C2052.50,1060.79 2052.93,1062.75 2053.36,1064.71 C2053.78,1066.67 2054.21,1068.62 2054.64,1070.58 C2055.07,1072.54 2055.50,1074.49 2055.94,1076.45 C2056.37,1078.41 2056.81,1080.36 2057.25,1082.32 C2057.69,1084.27 2058.13,1086.23 2058.57,1088.18 C2059.02,1090.13 2059.46,1092.09 2059.91,1094.04 C2060.36,1095.99 2060.81,1097.94 2061.27,1099.89 C2061.73,1101.85 2062.18,1103.80 2062.65,1105.75 C2063.11,1107.70 2063.57,1109.65 2064.04,1111.59 C2064.51,1113.54 2064.98,1115.49 2065.46,1117.44 C2065.93,1119.38 2066.41,1121.33 2066.90,1123.27 C2067.38,1125.22 2067.87,1127.16 2068.36,1129.10 C2068.85,1131.04 2069.35,1132.98 2069.85,1134.92 C2070.35,1136.86 2070.86,1138.80 2071.37,1140.74 C2071.88,1142.68 2072.39,1144.62 2072.91,1146.55 C2073.43,1148.49 2073.96,1150.42 2074.49,1152.35 C2075.02,1154.28 2075.55,1156.21 2076.10,1158.14 C2076.64,1160.07 2077.18,1162.00 2077.74,1163.93 C2078.29,1165.85 2078.84,1167.78 2079.41,1169.70 C2079.97,1171.62 2080.55,1173.54 2081.13,1175.46 C2081.70,1177.38 2082.29,1179.29 2082.89,1181.21 C2083.48,1183.12 2084.09,1185.03 2084.70,1186.94 C2085.32,1188.85 2085.94,1190.75 2086.57,1192.65 C2087.21,1194.55 2087.85,1196.45 2088.51,1198.34 C2089.17,1200.23 2089.83,1202.12 2090.52,1204.01 C2091.20,1205.89 2091.89,1207.77 2092.60,1209.65 C2093.31,1211.52 2094.03,1213.39 2094.76,1215.25 C2095.50,1217.12 2096.25,1218.98 2097.01,1220.83 C2097.78,1222.68 2098.56,1224.53 2099.36,1226.36 C2100.15,1228.20 2100.97,1230.03 2101.80,1231.86 C2102.63,1233.68 2103.48,1235.49 2104.35,1237.30 C2105.21,1239.11 2106.10,1240.91 2107.00,1242.69 C2107.91,1244.48 2108.83,1246.26 2109.77,1248.03 C2110.72,1249.80 2111.68,1251.55 2112.66,1253.30 C2113.64,1255.04 2114.65,1256.78 2115.67,1258.50 C2116.70,1260.22 2117.74,1261.93 2118.81,1263.63 C2119.88,1265.32 2120.97,1267.00 2122.08,1268.67 C2123.19,1270.34 2124.32,1271.99 2125.48,1273.63 C2126.64,1275.26 2127.82,1276.89 2129.02,1278.49 C2130.22,1280.09 2131.45,1281.68 2132.70,1283.24 C2133.95,1284.81 2135.22,1286.35 2136.52,1287.88 C2137.82,1289.40 2139.14,1290.91 2140.49,1292.39 C2141.84,1293.87 2143.22,1295.33 2144.62,1296.76 C2146.02,1298.19 2147.44,1299.60 2148.90,1300.98 C2150.35,1302.36 2151.83,1303.71 2153.34,1305.04 C2154.84,1306.36 2156.37,1307.65 2157.93,1308.91 C2159.49,1310.16 2161.08,1311.39 2162.69,1312.58 C2164.30,1313.77 2165.94,1314.93 2167.60,1316.04 C2169.27,1317.16 2170.96,1318.24 2172.67,1319.28 C2174.39,1320.31 2176.13,1321.31 2177.89,1322.26 C2179.65,1323.22 2181.44,1324.12 2183.24,1325.00 C2185.04,1325.88 2186.86,1326.72 2188.69,1327.54 C2190.51,1328.36 2192.35,1329.15 2194.20,1329.94 C2196.04,1330.73 2197.89,1331.49 2199.74,1332.26 C2201.59,1333.03 2203.45,1333.79 2205.29,1334.57 C2207.14,1335.34 2208.99,1336.12 2210.82,1336.92 C2212.66,1337.73 2215.39,1338.99 2216.30,1339.40" fill="none" stroke="#f00" stroke-width="5.5"/>
</g>
<rect x="138.4" y="137.0" width="968.1" height="1355.3" fill="none" stroke="#000" stroke-width="4.3"/>
<path d="M1105.90,1492.30V1502.30M976.90,1492.30V1512.80M847.90,1492.30V1502.30M718.90,1492.30V1512.80M589.90,1492.30V1502.30M460.90,1492.30V1512.80M331.90,1492.30V1502.30M202.90,1492.30V1512.80" stroke="#000" stroke-width="4.3" stroke-linecap="round" fill="none"/>
<text transform="translate(150.42 1577.70) scale(1 1.03)" font-size="62.6" fill="#000" >468</text>
<text transform="translate(407.98 1577.70) scale(1 1.03)" font-size="62.6" fill="#000" >464</text>
<text transform="translate(666.28 1577.70) scale(1 1.03)" font-size="62.6" fill="#000" >460</text>
<text transform="translate(924.43 1577.70) scale(1 1.03)" font-size="62.6" fill="#000" >456</text>
<rect x="1248.4" y="137.0" width="968.0999999999999" height="1355.3" fill="none" stroke="#000" stroke-width="4.3"/>
<path d="M2215.90,1492.30V1502.30M2086.90,1492.30V1512.80M1957.90,1492.30V1502.30M1828.90,1492.30V1512.80M1699.90,1492.30V1502.30M1570.90,1492.30V1512.80M1441.90,1492.30V1502.30M1312.90,1492.30V1512.80" stroke="#000" stroke-width="4.3" stroke-linecap="round" fill="none"/>
<text transform="translate(1260.42 1577.70) scale(1 1.03)" font-size="62.6" fill="#000" >468</text>
<text transform="translate(1517.98 1577.70) scale(1 1.03)" font-size="62.6" fill="#000" >464</text>
<text transform="translate(1776.28 1577.70) scale(1 1.03)" font-size="62.6" fill="#000" >460</text>
<text transform="translate(2034.43 1577.70) scale(1 1.03)" font-size="62.6" fill="#000" >456</text>
<g fill="#000"><circle cx="138.4" cy="190.8" r="2.6"/><circle cx="1106.5" cy="190.8" r="2.6"/><circle cx="138.4" cy="297.2" r="2.6"/><circle cx="1106.5" cy="297.2" r="2.6"/><circle cx="138.4" cy="403.6" r="2.6"/><circle cx="1106.5" cy="403.6" r="2.6"/><circle cx="138.4" cy="510.0" r="2.6"/><circle cx="1106.5" cy="510.0" r="2.6"/><circle cx="138.4" cy="616.4" r="2.6"/><circle cx="1106.5" cy="616.4" r="2.6"/><circle cx="138.4" cy="722.8" r="2.6"/><circle cx="1106.5" cy="722.8" r="2.6"/><circle cx="138.4" cy="829.2" r="2.6"/><circle cx="1106.5" cy="829.2" r="2.6"/><circle cx="138.4" cy="935.6" r="2.6"/><circle cx="1106.5" cy="935.6" r="2.6"/><circle cx="138.4" cy="1042.0" r="2.6"/><circle cx="1106.5" cy="1042.0" r="2.6"/><circle cx="138.4" cy="1148.4" r="2.6"/><circle cx="1106.5" cy="1148.4" r="2.6"/><circle cx="138.4" cy="1254.8" r="2.6"/><circle cx="1106.5" cy="1254.8" r="2.6"/><circle cx="138.4" cy="1361.2" r="2.6"/><circle cx="1106.5" cy="1361.2" r="2.6"/><circle cx="138.4" cy="1467.6" r="2.6"/><circle cx="1106.5" cy="1467.6" r="2.6"/><circle cx="1248.4" cy="272.2" r="2.6"/><circle cx="2216.5" cy="272.2" r="2.6"/><circle cx="1248.4" cy="407.8" r="2.6"/><circle cx="2216.5" cy="407.8" r="2.6"/><circle cx="1248.4" cy="543.4" r="2.6"/><circle cx="2216.5" cy="543.4" r="2.6"/><circle cx="1248.4" cy="679.0" r="2.6"/><circle cx="2216.5" cy="679.0" r="2.6"/><circle cx="1248.4" cy="814.6" r="2.6"/><circle cx="2216.5" cy="814.6" r="2.6"/><circle cx="1248.4" cy="950.2" r="2.6"/><circle cx="2216.5" cy="950.2" r="2.6"/><circle cx="1248.4" cy="1085.8" r="2.6"/><circle cx="2216.5" cy="1085.8" r="2.6"/><circle cx="1248.4" cy="1221.4" r="2.6"/><circle cx="2216.5" cy="1221.4" r="2.6"/><circle cx="1248.4" cy="1357.0" r="2.6"/><circle cx="2216.5" cy="1357.0" r="2.6"/></g>
<text x="37.58" y="96.10" font-size="97" fill="#000" >(a)</text>
<text transform="translate(182.26 95.20) scale(1 1.03)" font-size="68.8" fill="#000" >Preparation of rutile TiO</text>
<text transform="translate(912.44 118.70) scale(1 1.03)" font-size="41" fill="#000" >2</text>
<text transform="translate(936.13 95.20) scale(1 1.03)" font-size="68.8" fill="#000" >(100)</text>
<path d="M170,199.9H299" stroke="#000" stroke-width="5.8" stroke-linecap="round"/><circle cx="234.6" cy="199.9" r="4.6"/>
<path d="M170,307.7H299" stroke="#f00" stroke-width="5.8" stroke-linecap="round"/><circle cx="234.6" cy="307.7" r="4.6" fill="#f00"/>
<text x="317.13" y="218.00" font-size="65" fill="#000" stroke="#000" stroke-width="1.1">+</text>
<text transform="translate(375.07 220.20) scale(1 1.046)" font-size="68.3" fill="#000" >O</text>
<text transform="translate(427.02 240.40) scale(1 1.03)" font-size="43.4" fill="#000" >2</text>
<text transform="translate(320.40 321.60) scale(1 0.72)" font-size="62.4" fill="#000" >–</text>
<text transform="translate(375.07 328.00) scale(1 1.046)" font-size="68.3" fill="#000" >O</text>
<text transform="translate(427.62 348.30) scale(1 1.03)" font-size="43.4" fill="#000" >2</text>
<rect x="880.9" y="166.5" width="211" height="110.7" fill="#000"/>
<rect x="864.55" y="150.65" width="211.2" height="110.2" fill="#fff" stroke="#000" stroke-width="1.5"/>
<text transform="translate(888.95 231.90) scale(1 1.03)" font-size="73.4" fill="#000" >Ti 2p</text>
<text transform="translate(866.33 980.00) scale(1 1.03)" font-size="63.7" fill="#000" >defects</text>
<path d="M934.1,1001.1L890.6,1216" stroke="#000" stroke-width="5.4" stroke-linecap="round"/>
<polygon points="884.2,1216.0 897.4,1218.9 885.0,1243.2" fill="#000" stroke="#000" stroke-width="3" stroke-linejoin="round"/>
<text transform="translate(317.44 1646.00) scale(1 1.03)" font-size="69" fill="#000" >Binding energy (eV)</text>
<text transform="translate(97.1 1142.34) rotate(-90) scale(1 1.03)" font-size="68.8">Norm. intensity (arb. units)</text>
<text x="1134.48" y="102.30" font-size="97" fill="#000" >(b)</text>
<text transform="translate(1301.15 106.20) scale(1 1.03)" font-size="68.8" fill="#000" >TiO</text>
<text transform="translate(1410.24 130.10) scale(1 1.03)" font-size="41" fill="#000" >2</text>
<text transform="translate(1433.53 106.20) scale(1 1.03)" font-size="68.8" fill="#000" >(100),  preparation: </text>
<text transform="translate(2036.10 100.00) scale(1 0.72)" font-size="63.2" fill="#000" >–</text>
<text transform="translate(2092.04 106.20) scale(1 1.03)" font-size="68.8" fill="#000" >O</text>
<text x="2144.06" y="129.70" font-size="42.5" fill="#000" >2</text>
<circle cx="1294.4" cy="169.1" r="7.2"/>
<path d="M1246.3,240H1342.6" stroke="#000" stroke-width="5" stroke-linecap="round"/>
<path d="M1246.3,310.9H1342.6" stroke="#00f" stroke-width="5" stroke-linecap="round"/>
<path d="M1246.3,381.8H1342.6" stroke="#f0f" stroke-width="5" stroke-linecap="round"/>
<path d="M1246.3,453.5H1342.6" stroke="#f00" stroke-width="5" stroke-linecap="round"/>
<text transform="translate(1359.89 189.40) scale(1 1.03)" font-size="57.8" fill="#000" >spectrum</text>
<text transform="translate(1359.68 259.50) scale(1 1.03)" font-size="57.8" fill="#000" >Shirley BG</text>
<text transform="translate(1360.20 330.60) scale(1 1.03)" font-size="57.8" fill="#000" >Ti4+-component</text>
<text transform="translate(1360.20 403.00) scale(1 1.03)" font-size="57.8" fill="#000" >Ti3+-component</text>
<text transform="translate(1360.69 474.20) scale(1 1.03)" font-size="57.8" fill="#000" >sum curve</text>
<rect x="2005.4" y="166" width="198.5" height="104.9" fill="#000"/>
<rect x="1989.55" y="150.65" width="197.8" height="103.9" fill="#fff" stroke="#000" stroke-width="1.5"/>
<text transform="translate(2013.06 227.20) scale(1 1.03)" font-size="68.6" fill="#000" >Ti 2p</text>
<text transform="translate(1366.77 652.10) scale(1 1.03)" font-size="63.6" fill="#00f" >Ti</text>
<text transform="translate(1419.93 620.90) scale(1 1.03)" font-size="38" fill="#00f" >4+</text>
<text transform="translate(1463.59 652.10) scale(1 1.03)" font-size="63.6" fill="#00f" >: 76%</text>
<path d="M1635.9,634.6L1872,834.5" stroke="#00f" stroke-width="4.8" stroke-linecap="round"/>
<polygon points="1876.4,829.5 1867.2,840.3 1893.6,852.3" fill="#00f" stroke="#00f" stroke-width="3" stroke-linejoin="round"/>
<text transform="translate(1512.78 1412.20) scale(1 1.03)" font-size="63.4" fill="#f0f" >Ti</text>
<text transform="translate(1566.35 1380.70) scale(1 1.03)" font-size="38" fill="#f0f" >3+</text>
<text transform="translate(1609.81 1412.20) scale(1 1.03)" font-size="63.4" fill="#f0f" >: 24%</text>
<path d="M1668.9,1343.7L1953,1180.5" stroke="#f0f" stroke-width="4.8" stroke-linecap="round"/>
<polygon points="1950.0,1175.3 1956.9,1186.2 1975.8,1167.6" fill="#f0f" stroke="#f0f" stroke-width="3" stroke-linejoin="round"/>
<text transform="translate(1397.44 1646.00) scale(1 1.03)" font-size="69" fill="#000" >Binding energy (eV)</text>
</svg>
</body></html>
